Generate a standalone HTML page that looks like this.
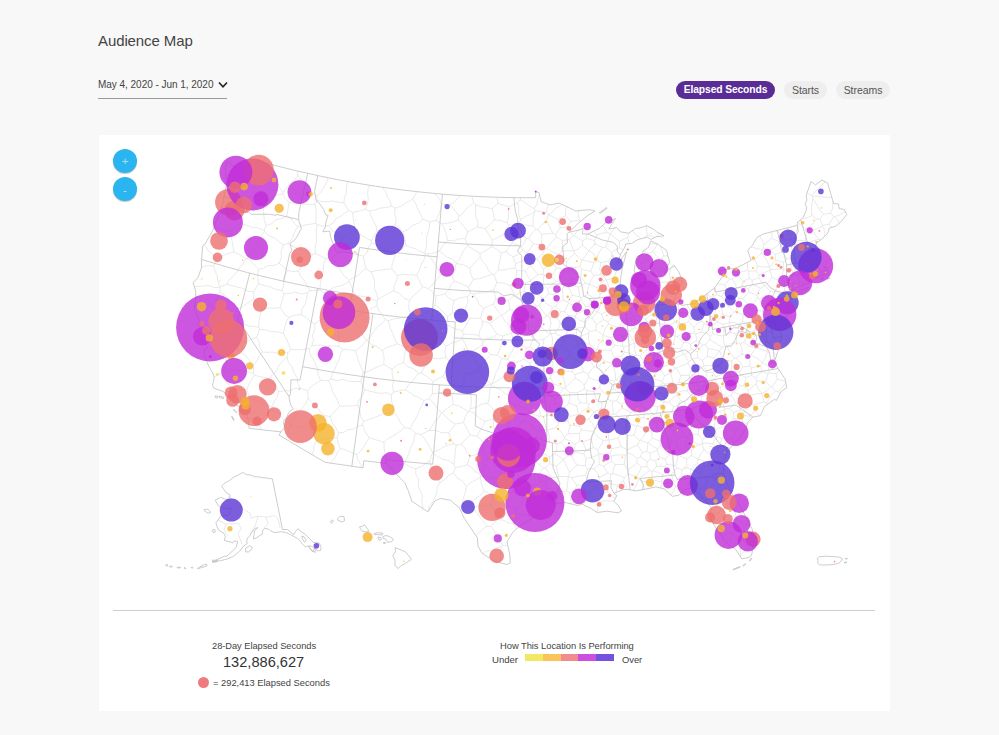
<!DOCTYPE html>
<html lang="en"><head><meta charset="utf-8"><title>Audience Map</title>
<style>
html,body{margin:0;padding:0;}
body{width:999px;height:735px;overflow:hidden;background:#f8f8f8;font-family:"Liberation Sans",sans-serif;color:#333;position:relative;}
.abs{position:absolute;white-space:nowrap;}
h1{position:absolute;left:98px;top:31px;margin:0;font-weight:400;font-size:15px;line-height:20px;color:#444;letter-spacing:-0.1px;}
.date{position:absolute;left:98px;top:77px;width:129px;height:21px;border-bottom:1px solid #9a9a9a;font-size:10px;line-height:16px;color:#444;letter-spacing:-0.03px;}
.date svg{position:absolute;left:120px;top:4px;}
.tabs{position:absolute;top:81px;left:676px;height:18px;}
.tab{position:absolute;top:81px;height:18px;border-radius:9px;background:#eeeeee;color:#555;font-size:10.5px;line-height:18px;text-align:center;letter-spacing:-0.05px;}
.tab.on{background:#5a2d96;color:#fff;font-weight:700;font-size:10.3px;letter-spacing:-0.12px;}
.card{position:absolute;left:99px;top:135px;width:791px;height:576px;background:#fff;}
.zb{position:absolute;width:24px;height:24px;border-radius:12px;background:#2bb5f0;color:rgba(255,255,255,.62);text-align:center;font-size:11.5px;line-height:25px;box-shadow:0 1px 1px rgba(120,90,40,.35);}
.hr{position:absolute;left:113px;top:610px;width:762px;height:1px;background:#cfcfcf;}
.lg{position:absolute;white-space:nowrap;color:#444;}
.bar{position:absolute;left:525px;top:654px;width:89px;height:7px;display:flex;}
.bar i{display:block;flex:1;height:7px;}
svg.map{position:absolute;left:0;top:0;}
</style></head><body>
<h1>Audience Map</h1>
<div class="date"><span>May 4, 2020 - Jun 1, 2020</span><svg width="10" height="8" viewBox="0 0 10 8"><path d="M1 1.5 L5 5.8 L9 1.5" fill="none" stroke="#222" stroke-width="1.6"/></svg></div>
<div class="tab on" style="left:676px;width:99px;">Elapsed Seconds</div>
<div class="tab" style="left:784px;width:43px;">Starts</div>
<div class="tab" style="left:836px;width:54px;">Streams</div>
<div class="card"></div>
<svg class="map" width="999" height="735" viewBox="0 0 999 735">
<path fill="none" stroke="#d2d2d2" stroke-width="0.5" stroke-linejoin="round" d="M194.7 305.0 196.7 305.2 201.7 305.4 206.8 305.3 211.8 306.5 M211.8 306.5 214.5 301.5 217.7 296.7 219.9 291.5 M219.9 291.5 219.9 287.3 M194.2 286.4 199.1 286.6 204.3 285.7 209.5 285.8 214.6 287.6 219.9 287.3 M226.2 183.1 228.7 183.8 M228.7 183.8 233.1 179.1 237.1 174.3 239.9 170.0 M256.9 175.8 254.8 180.8 254.7 186.3 253.5 191.5 251.5 196.5 M248.5 172.3 251.1 174.4 256.9 175.8 M228.7 183.8 232.4 187.4 236.0 191.1 239.4 195.1 243.0 198.8 M251.5 196.5 243.0 198.8 M240.5 223.5 240.8 216.9 239.8 210.2 240.0 203.6 M240.0 203.6 235.2 204.9 230.1 205.0 225.1 206.1 221.2 207.7 M240.5 223.5 235.0 227.7 229.3 231.5 M229.3 231.5 224.2 230.3 219.3 228.7 214.6 226.3 214.4 226.2 M240.0 203.6 243.0 198.8 M211.8 306.5 214.1 312.2 215.5 318.2 M201.2 327.8 202.3 327.2 207.1 325.5 212.2 325.2 M215.5 318.2 212.2 325.2 M213.9 376.4 215.3 376.3 219.8 374.0 M219.8 374.0 223.9 377.5 226.2 382.5 230.5 385.9 233.2 390.6 M228.8 397.1 230.2 395.1 233.2 390.6 M213.6 266.0 215.2 271.2 217.4 276.2 217.7 281.8 220.3 286.7 M213.6 266.0 216.7 258.4 M216.7 258.4 222.4 256.0 228.0 253.4 234.0 252.0 M220.3 286.7 226.5 284.5 M226.5 284.5 229.2 279.8 233.3 276.2 236.8 272.1 239.5 267.4 243.3 263.5 245.7 258.6 M234.0 252.0 240.2 254.8 245.7 258.6 M201.5 267.2 203.2 266.7 208.3 265.6 213.6 266.0 M219.9 287.3 220.3 286.7 M204.2 244.7 206.0 247.2 208.9 251.6 213.0 254.8 216.7 258.4 M229.3 231.5 231.2 236.5 232.2 241.6 233.0 246.8 234.0 252.0 M224.5 368.8 226.1 363.2 226.2 357.4 M219.8 374.0 224.5 368.8 M204.6 350.8 204.8 350.8 209.2 347.9 214.3 347.7 M226.2 357.4 222.1 354.3 218.8 350.3 214.3 347.7 M212.2 325.2 215.6 330.0 218.7 335.0 M214.3 347.7 217.5 341.7 218.7 335.0 M253.7 291.9 253.7 299.1 M226.5 284.5 232.1 285.5 237.5 287.1 243.0 288.3 248.0 291.4 253.7 291.9 M219.9 291.5 225.0 295.2 228.9 300.0 232.8 304.9 237.3 309.1 M253.7 299.1 248.2 302.4 243.1 306.3 237.3 309.1 M215.5 318.2 222.0 317.7 228.5 317.2 235.0 316.8 M237.3 309.1 235.0 316.8 M218.7 335.0 225.8 335.6 232.9 335.9 M232.9 335.9 235.2 329.1 237.8 322.3 M237.8 322.3 235.0 316.8 M435.1 193.5 435.2 194.3 439.5 198.6 441.2 204.3 M441.2 204.3 450.1 204.8 M450.1 204.8 454.5 201.9 458.0 198.0 460.8 195.5 M245.7 258.6 247.5 258.8 M253.7 291.9 258.5 283.6 M247.5 258.8 251.8 261.5 254.9 265.6 258.5 269.2 M258.5 283.6 257.7 276.4 258.5 269.2 M240.5 223.5 246.4 225.1 252.2 227.5 258.4 228.0 264.2 230.3 M262.2 202.4 257.2 198.8 251.5 196.5 M262.2 202.4 263.2 208.2 263.9 214.0 264.2 219.9 266.2 225.5 M266.2 225.5 264.2 230.3 M247.5 258.8 249.7 253.8 253.5 249.9 256.7 245.6 258.8 240.6 261.1 235.7 264.4 231.5 M264.2 230.3 264.4 231.5 M256.9 175.8 264.6 171.1 M262.2 202.4 267.6 200.9 272.5 198.1 277.2 195.1 282.8 193.9 M264.6 171.1 267.6 175.9 272.5 179.1 275.2 184.2 279.9 187.7 283.0 192.4 M282.8 193.9 283.0 192.4 M633.5 490.5 633.5 490.4 636.3 484.8 638.8 479.1 M644.5 489.4 643.9 486.3 641.9 481.3 M641.9 481.3 638.8 479.1 M247.9 418.5 250.6 418.7 255.6 419.5 260.6 420.4 M260.6 420.4 259.7 425.6 260.7 429.6 M226.2 357.4 232.0 353.3 237.6 348.9 M253.6 373.5 253.5 364.5 M224.5 368.8 230.3 370.2 236.2 370.5 242.1 371.0 247.9 371.9 253.6 373.5 M253.5 364.5 249.4 360.7 246.3 356.0 241.5 352.8 237.6 348.9 M232.9 335.9 236.1 340.3 238.3 345.3 M238.3 345.3 237.6 348.9 M233.2 390.6 240.0 390.0 246.9 389.4 M253.6 373.5 254.5 375.2 M254.5 375.2 251.5 379.7 248.8 384.3 246.9 389.4 M243.3 410.0 245.2 407.3 246.7 402.3 249.9 398.1 M246.9 389.4 249.9 398.1 M500.1 562.6 500.1 561.4 500.8 556.4 500.4 551.3 501.6 546.4 M501.6 546.4 496.6 548.2 491.8 550.7 486.3 551.0 482.7 553.5 M266.2 225.5 271.7 223.7 276.1 219.8 281.8 218.5 286.8 215.8 M282.8 193.9 285.3 198.6 289.0 202.5 M286.8 215.8 288.0 209.2 289.0 202.5 M283.0 192.4 286.4 188.0 289.8 183.7 294.2 180.2 297.5 175.8 M264.6 171.1 267.0 166.5 267.7 163.5 M297.5 175.8 298.2 171.2 M662.2 483.3 668.1 483.1 673.9 483.3 M662.2 483.3 660.4 488.0 M670.9 495.0 673.3 491.7 675.6 486.6 M675.6 486.6 673.9 483.3 M650.5 482.0 641.9 481.3 M650.5 482.0 651.0 487.4 651.1 487.9 M785.6 381.3 777.1 379.1 M785.8 382.7 782.7 386.8 778.5 392.0 M777.1 379.1 772.3 387.0 M772.3 387.0 775.6 390.8 M778.5 392.0 775.6 390.8 M780.1 393.9 778.5 392.0 M253.5 364.5 257.1 360.8 259.0 355.8 262.5 352.0 M238.3 345.3 242.6 342.6 247.6 341.5 251.9 339.0 256.7 337.4 M262.5 352.0 259.8 347.4 259.1 342.1 256.7 337.4 M262.5 352.0 267.6 352.4 272.7 352.0 277.8 353.3 282.9 352.6 288.0 352.7 M288.0 352.7 287.1 357.0 M254.5 375.2 259.4 376.5 264.4 377.5 269.4 378.5 M287.1 357.0 283.1 360.9 279.2 365.0 277.0 370.3 272.9 374.1 269.4 378.5 M364.6 389.7 369.9 391.2 375.2 392.5 380.6 393.4 386.3 392.7 391.5 394.7 M364.6 389.7 362.9 395.2 359.2 399.6 357.4 405.0 M357.4 405.0 359.8 410.3 360.5 416.1 363.3 421.2 M363.3 421.2 368.3 419.7 373.3 418.1 378.2 416.1 383.0 413.9 388.3 413.1 393.3 411.7 M393.3 411.7 393.0 406.0 391.4 400.5 391.5 394.7 M405.4 389.8 408.2 385.4 412.0 381.7 415.2 377.7 418.3 373.5 M405.4 389.8 399.5 390.7 393.7 392.2 M393.7 392.2 392.5 386.6 393.5 380.7 392.3 375.1 392.0 369.3 M418.3 373.5 414.0 369.0 407.9 366.8 403.4 362.6 M392.0 369.3 397.2 365.1 403.4 362.6 M421.0 373.0 418.3 373.5 M421.0 373.0 423.7 368.3 426.0 363.3 427.2 357.9 M427.2 357.9 423.8 353.6 421.1 348.7 418.3 344.0 M414.8 343.5 418.3 344.0 M406.2 347.5 414.8 343.5 M406.2 347.5 405.0 352.5 404.1 357.5 403.4 362.6 M397.2 343.8 406.2 347.5 M397.2 343.8 392.1 345.8 386.8 347.4 382.3 350.6 M383.8 364.3 384.1 357.4 382.3 350.6 M383.8 364.3 392.0 369.3 M416.6 191.6 415.6 194.3 412.8 199.4 M412.8 199.4 416.0 204.0 417.8 209.3 420.7 214.1 422.9 219.2 M435.8 220.4 438.6 215.4 440.4 210.0 441.2 204.3 M435.8 220.4 429.8 221.9 M429.8 221.9 422.9 219.2 M403.1 231.7 408.6 229.3 412.9 225.2 418.4 223.0 422.9 219.2 M412.8 199.4 406.9 202.3 401.4 206.1 395.1 208.1 M403.1 231.7 399.7 227.9 395.6 224.7 M395.6 224.7 396.1 219.1 394.6 213.7 395.1 208.1 M501.6 546.4 502.7 545.2 M475.4 534.9 478.9 532.8 482.7 529.4 486.9 526.5 M486.9 526.5 491.0 526.2 M491.0 526.2 494.3 530.8 496.3 536.0 500.5 540.0 502.7 545.2 M404.6 427.5 400.4 422.6 397.5 416.7 393.3 411.7 M384.0 442.4 379.1 440.8 374.2 439.3 369.3 437.7 M404.6 427.5 400.9 430.9 396.6 433.7 392.3 436.4 387.7 438.7 384.0 442.4 M363.3 421.2 362.5 425.1 M362.5 425.1 365.2 431.8 369.3 437.7 M384.0 442.4 384.1 448.0 385.1 453.5 385.4 459.1 386.0 463.3 M361.2 467.5 361.1 464.6 357.7 460.1 356.7 454.7 M369.3 437.7 366.3 442.0 363.8 446.8 360.7 451.0 356.7 454.7 M330.8 463.1 331.9 460.9 335.3 457.2 337.4 452.5 340.6 448.6 M356.7 454.7 351.4 452.5 346.2 450.0 340.6 448.6 M429.8 221.9 429.4 227.2 428.3 232.3 426.3 237.3 426.9 242.7 426.2 247.9 424.6 252.9 M403.1 231.7 404.7 238.5 406.0 245.3 M424.6 252.9 419.8 251.4 415.4 248.7 410.5 247.4 406.0 245.3 M258.5 269.2 263.7 268.1 268.6 265.6 274.1 265.4 279.1 263.3 M264.4 231.5 268.7 235.6 274.3 237.8 278.8 241.6 283.5 244.9 M283.5 244.9 281.1 250.9 281.5 257.4 279.1 263.3 M314.9 204.2 309.6 204.7 304.5 204.0 299.3 203.3 294.1 203.0 289.0 202.5 M314.9 204.2 316.3 210.5 316.0 216.9 315.9 223.3 M286.8 215.8 291.2 218.8 294.2 223.0 297.7 226.9 M297.7 226.9 303.7 225.3 309.8 224.3 315.9 223.3 M283.5 244.9 288.4 243.3 M297.7 226.9 294.4 232.2 292.5 238.3 288.4 243.3 M317.0 200.6 316.9 196.0 M317.0 200.6 322.3 201.6 327.7 201.7 333.2 200.9 338.5 202.2 343.9 202.7 M316.9 196.0 320.5 192.4 323.3 188.1 326.0 183.9 327.6 178.8 328.6 177.8 M343.9 202.7 344.4 197.6 346.5 192.7 346.4 187.5 347.6 182.5 348.0 181.6 M314.9 204.2 317.0 200.6 M297.5 175.8 301.6 179.7 305.2 183.9 309.6 187.5 312.3 192.6 316.9 196.0 M328.4 225.7 332.9 223.2 335.8 218.8 340.3 216.4 344.4 213.4 348.4 210.4 M328.4 225.7 322.6 226.1 317.0 224.5 M348.4 210.4 343.9 202.7 M317.0 224.5 315.9 223.3 M752.8 549.5 751.9 549.4 746.8 548.3 M746.8 548.3 740.7 555.7 M740.7 555.7 740.4 556.9 M775.6 390.8 771.9 394.5 769.1 398.8 766.5 403.3 M767.2 404.5 766.5 403.3 M649.8 470.6 651.8 471.3 M638.6 478.6 644.2 474.5 649.8 470.6 M638.6 478.6 638.8 479.1 M650.5 482.0 652.6 479.9 M651.8 471.3 652.6 479.9 M662.2 483.3 661.3 481.8 M652.6 479.9 661.3 481.8 M685.3 489.6 681.0 487.7 675.6 486.6 M674.1 482.0 673.9 483.3 M686.6 488.7 689.4 482.8 M674.1 482.0 681.6 475.6 M681.6 475.6 685.8 478.9 689.4 482.8 M674.1 482.0 671.4 474.9 M681.6 475.6 682.0 469.6 M671.4 474.9 676.9 467.7 M676.9 467.7 682.0 469.6 M825.3 181.8 822.1 185.0 818.5 188.4 815.0 192.0 811.3 195.5 M811.3 195.5 807.0 192.9 M603.0 225.2 604.3 227.5 607.5 232.6 M607.5 232.6 602.1 233.2 597.0 235.0 M593.6 231.2 597.0 235.0 M580.7 276.5 581.5 269.4 M580.7 276.5 572.2 279.5 M572.2 279.5 570.2 274.2 568.6 268.8 M568.6 268.8 574.1 267.5 579.8 266.7 M581.5 269.4 579.8 266.7 M590.9 271.4 581.5 269.4 M593.9 262.4 590.9 271.4 M593.9 262.4 588.0 261.3 582.1 260.0 M582.1 260.0 581.7 260.1 M581.7 260.1 579.8 266.7 M567.0 268.1 568.6 268.8 M581.7 260.1 574.7 253.7 M567.0 268.1 566.5 261.9 M574.7 253.7 570.2 257.4 566.5 261.9 M290.4 424.9 292.9 420.2 296.0 415.8 299.5 411.7 302.7 407.4 305.9 403.1 308.1 398.1 M290.4 424.9 285.9 421.4 281.8 417.3 277.9 412.9 272.9 409.9 M272.9 409.9 272.5 407.4 M272.5 407.4 273.6 401.8 277.2 397.2 278.7 391.7 M278.7 391.7 284.2 390.8 289.8 390.7 295.0 388.1 300.7 388.4 M300.7 388.4 307.5 390.6 M307.5 390.6 308.1 398.1 M285.7 439.1 287.6 435.4 288.7 430.2 290.6 425.4 M290.6 425.4 290.4 424.9 M260.6 420.4 264.4 416.6 268.1 412.6 272.9 409.9 M249.9 398.1 255.7 399.9 261.4 402.3 267.0 404.6 272.5 407.4 M269.4 378.5 273.4 382.3 276.2 386.9 278.7 391.7 M287.1 357.0 288.4 362.6 292.2 367.2 293.9 372.7 297.2 377.5 297.7 383.5 300.7 388.4 M309.1 348.6 310.2 354.2 313.0 359.1 315.8 364.1 317.5 369.5 318.2 375.2 320.6 380.3 M309.1 348.6 303.0 349.6 296.8 349.8 290.6 349.5 M320.6 380.3 316.0 383.4 311.3 386.5 307.5 390.6 M288.0 352.7 290.6 349.5 M330.3 416.5 323.9 415.5 M330.3 416.5 332.1 422.5 335.7 427.5 338.5 433.0 M323.9 415.5 318.5 419.5 314.5 424.8 309.8 429.6 M338.5 433.0 337.0 437.4 M337.0 437.4 331.9 438.3 326.7 438.8 321.6 439.5 316.6 440.9 M309.8 429.6 313.4 435.1 316.6 440.9 M339.6 406.2 334.9 411.3 330.3 416.5 M339.6 406.2 337.9 400.8 335.0 395.9 332.2 391.0 331.0 385.4 328.0 380.5 M308.1 398.1 311.9 402.6 316.5 406.4 319.9 411.2 323.9 415.5 M328.0 380.5 320.6 380.3 M357.4 405.0 351.5 406.2 345.5 405.9 339.6 406.2 M362.5 425.1 357.6 426.4 353.2 429.2 348.1 429.7 343.6 432.4 338.5 433.0 M290.6 425.4 296.8 427.4 303.6 427.2 309.8 429.6 M340.6 448.6 338.2 443.2 337.0 437.4 M311.9 454.6 313.5 450.5 314.0 445.3 316.6 440.9 M258.5 283.6 264.3 285.7 270.3 286.7 275.8 289.6 281.9 290.4 M279.1 263.3 283.3 266.9 287.3 270.6 M281.9 290.4 283.6 285.6 283.9 280.3 285.4 275.4 287.3 270.6 M288.5 317.7 283.9 312.9 280.0 307.6 M288.5 317.7 286.0 322.6 284.6 328.0 283.5 333.4 M283.5 333.4 277.7 331.9 271.6 331.6 265.7 329.9 259.7 329.4 M280.0 307.6 274.1 308.2 268.1 307.9 262.2 309.1 M262.2 309.1 260.3 315.0 259.0 321.0 258.7 327.2 M258.7 327.2 259.7 329.4 M283.8 293.8 289.7 293.6 295.6 292.2 301.6 294.0 307.5 292.7 M283.8 293.8 282.1 300.7 280.0 307.6 M301.2 314.7 302.1 309.0 305.2 303.9 306.6 298.4 307.5 292.7 M301.2 314.7 294.6 315.1 288.5 317.7 M311.8 346.1 313.5 340.7 312.4 335.0 314.8 329.7 314.9 324.0 M309.1 348.6 311.8 346.1 M301.2 314.7 306.1 317.3 310.2 321.1 314.9 324.0 M290.6 349.5 288.7 343.9 286.2 338.6 283.5 333.4 M256.7 337.4 259.7 329.4 M253.7 299.1 258.4 303.7 262.2 309.1 M281.9 290.4 283.8 293.8 M237.8 322.3 243.0 323.6 248.0 325.8 253.3 326.4 258.7 327.2 M323.8 318.9 318.8 320.5 314.9 324.0 M311.8 346.1 317.3 345.1 322.7 345.2 328.1 346.8 333.5 345.8 338.9 346.3 M323.8 318.9 329.0 321.0 333.5 324.4 338.7 326.6 M338.9 346.3 338.8 339.7 338.3 333.2 338.7 326.6 M346.5 307.0 349.9 312.1 351.5 318.1 M346.5 307.0 340.1 306.2 334.0 304.5 328.0 302.1 M323.8 318.9 325.0 313.3 326.7 307.7 328.0 302.1 M338.7 326.6 342.4 322.8 346.7 320.2 351.5 318.1 M627.8 489.6 625.6 486.3 623.6 481.0 M638.6 478.6 636.0 476.5 M636.0 476.5 628.1 474.0 M623.6 481.0 624.4 477.5 M628.1 474.0 624.4 477.5 M527.5 473.8 524.9 468.2 524.1 462.1 M527.5 473.8 523.3 478.6 M520.7 478.7 523.3 478.6 M520.7 478.7 516.1 472.8 513.3 466.0 M524.1 462.1 516.9 460.9 M513.3 466.0 516.9 460.9 M515.2 450.4 516.2 455.6 516.9 460.9 M502.5 466.6 498.4 459.4 M502.5 466.6 507.8 465.2 513.3 466.0 M515.2 450.4 509.6 450.1 504.0 449.3 M498.4 459.4 500.5 454.0 504.0 449.3 M404.6 427.5 410.2 428.8 M391.5 394.7 393.7 392.2 M405.4 389.8 409.9 392.7 414.2 395.9 419.4 397.7 423.9 400.6 M423.9 400.6 422.0 405.5 419.4 410.1 417.7 415.0 415.1 419.6 412.3 424.1 410.2 428.8 M563.2 300.1 562.9 294.4 562.5 288.7 M563.2 300.1 557.6 302.4 M557.6 302.4 552.5 294.6 M562.5 288.7 557.9 292.4 552.5 294.6 M567.0 268.1 564.4 269.3 M564.4 269.3 556.5 267.8 M556.5 267.8 553.6 263.7 M566.5 261.9 562.1 258.7 558.9 254.2 M558.9 254.2 558.3 254.3 M558.3 254.3 555.5 258.8 553.6 263.7 M520.3 197.7 520.2 199.7 M539.6 194.6 537.9 198.9 537.0 204.1 534.1 208.6 M520.2 199.7 524.9 202.6 529.3 205.8 534.1 208.6 M497.2 197.3 497.2 198.2 497.9 203.3 M497.9 203.3 503.4 205.1 508.9 207.0 M508.9 207.0 517.8 202.8 M520.2 199.7 517.8 202.8 M493.5 304.0 495.8 298.9 M493.5 304.0 488.6 306.2 483.6 308.4 M483.6 308.4 479.2 304.2 476.8 298.6 472.8 294.1 M472.8 294.1 478.0 293.0 483.4 292.7 488.6 291.4 493.8 289.9 M493.8 289.9 495.8 298.9 M532.4 337.3 534.5 331.8 536.3 326.1 M536.3 326.1 530.5 326.5 525.0 324.7 519.4 324.1 M532.4 337.3 527.3 333.6 521.6 330.9 515.6 328.9 M519.4 324.1 515.6 328.9 M435.8 220.4 441.7 223.8 M450.1 204.8 454.8 210.2 458.8 216.2 M441.7 223.8 447.3 223.3 452.8 222.2 458.1 220.0 M458.8 216.2 458.1 220.0 M471.6 196.2 473.8 202.6 M458.8 216.2 463.0 213.3 465.9 208.9 469.9 205.9 473.8 202.6 M496.8 282.4 494.1 274.8 M496.8 282.4 503.9 283.1 510.4 285.8 M498.3 270.3 494.1 274.8 M514.9 268.2 516.7 270.6 M516.7 270.6 516.1 280.4 M498.3 270.3 503.9 269.8 509.4 268.8 514.9 268.2 M510.4 285.8 516.1 280.4 M508.6 300.8 502.1 300.5 495.8 298.9 M496.8 282.4 493.8 289.9 M508.6 300.8 514.4 294.9 M510.4 285.8 514.4 294.9 M414.8 343.5 413.7 338.0 410.8 332.9 411.0 327.0 408.6 321.8 407.3 316.3 M397.2 343.8 394.4 338.3 392.2 332.4 389.8 326.7 388.4 320.6 M388.4 320.6 394.6 318.7 401.0 317.9 407.3 316.3 M418.3 344.0 423.1 339.6 429.4 337.3 434.0 332.7 M423.5 315.5 425.4 320.2 428.1 324.5 432.3 327.8 434.0 332.7 M423.5 315.5 416.7 314.5 409.9 313.7 M407.3 316.3 409.9 313.7 M340.4 250.5 339.9 244.5 341.4 238.7 M340.4 250.5 346.2 251.9 352.0 253.4 357.9 254.4 363.6 256.3 M341.4 238.7 346.1 236.4 349.5 232.2 354.1 230.0 M354.1 230.0 358.2 233.0 362.4 235.8 366.7 238.4 371.3 240.6 M363.6 256.3 367.1 252.4 368.6 247.2 371.5 243.0 M371.3 240.6 371.5 243.0 M348.4 210.4 352.6 212.5 M352.6 212.5 353.1 218.3 354.3 224.1 354.1 230.0 M328.4 225.7 332.4 230.3 337.7 233.7 341.4 238.7 M395.6 224.7 389.4 227.0 382.8 228.2 376.9 231.3 M376.9 231.3 374.0 235.9 371.3 240.6 M406.0 245.3 401.1 249.7 395.3 252.8 M395.3 252.8 390.5 250.8 385.5 249.4 380.9 247.1 376.4 244.7 371.5 243.0 M287.3 270.6 292.8 271.4 298.4 271.3 M307.5 292.7 310.0 290.6 M298.4 271.3 300.6 276.5 304.5 280.7 307.0 285.9 310.0 290.6 M288.4 243.3 292.9 246.2 297.5 248.7 302.6 250.2 307.4 252.4 312.3 254.5 M298.4 271.3 301.3 266.7 306.1 263.5 309.4 259.2 312.3 254.5 M317.0 224.5 316.5 230.3 316.2 236.1 316.5 242.0 314.8 247.8 315.5 253.7 M315.5 253.7 312.3 254.5 M369.5 211.2 375.0 210.1 380.3 208.0 386.0 207.7 391.3 206.0 M369.5 211.2 365.6 209.2 M365.6 209.2 367.3 204.2 368.3 199.1 367.7 193.8 368.1 188.6 369.9 185.3 M391.3 206.0 390.2 200.9 387.2 196.5 385.7 191.5 382.4 187.4 382.3 187.2 M376.9 231.3 376.0 225.9 373.7 221.0 371.2 216.2 369.5 211.2 M395.1 208.1 391.3 206.0 M352.6 212.5 359.2 211.0 365.6 209.2 M740.7 555.7 740.2 549.5 738.5 543.5 M738.5 543.5 734.2 544.3 M734.2 544.3 732.5 547.5 M502.7 545.2 507.8 545.4 M753.0 533.9 750.4 535.3 745.6 537.1 M753.4 543.2 749.9 540.5 745.1 538.2 M745.6 537.1 745.1 538.2 M746.8 548.3 743.6 539.7 M745.1 538.2 743.6 539.7 M738.5 543.5 741.2 540.5 M743.6 539.7 741.2 540.5 M730.4 540.8 734.2 544.3 M730.4 540.8 731.9 533.5 M741.2 540.5 736.4 537.2 731.9 533.5 M731.9 533.5 731.7 533.0 M731.7 533.0 726.0 534.5 721.0 535.1 M730.4 540.8 726.6 542.6 M710.5 391.4 710.3 394.4 M710.5 391.4 706.9 385.2 M701.4 396.6 710.3 394.4 M706.9 385.2 699.2 386.6 M701.4 396.6 697.5 394.2 M699.2 386.6 697.5 394.2 M651.8 471.3 652.8 470.9 M661.3 481.8 662.8 474.8 M652.8 470.9 658.0 472.3 662.8 474.8 M671.4 474.9 665.1 472.7 M662.8 474.8 665.1 472.7 M719.5 468.8 712.9 474.7 M719.5 468.8 723.7 468.9 M712.9 474.7 718.5 477.0 724.4 478.5 M724.9 478.2 724.4 478.5 M721.8 485.3 729.0 490.6 M730.0 490.0 729.0 490.6 M721.8 485.3 724.4 478.5 M766.5 403.3 764.2 402.0 M772.3 387.0 770.5 386.7 M764.2 402.0 761.7 393.5 M761.7 393.5 761.8 393.3 M770.5 386.7 766.8 390.8 761.8 393.3 M812.2 196.1 817.7 196.3 823.2 197.1 828.7 197.3 831.9 197.5 M811.3 195.5 812.2 196.1 M595.3 243.8 588.8 250.4 M595.3 243.8 594.3 240.5 M594.3 240.5 586.6 238.3 M588.8 250.4 582.4 245.4 M586.6 238.3 582.6 240.9 M582.6 240.9 582.4 245.4 M586.2 234.0 586.6 238.3 M597.0 235.0 594.3 240.5 M588.8 250.6 588.8 250.4 M588.8 250.6 585.7 255.5 582.1 260.0 M573.9 250.9 574.7 253.7 M573.9 250.9 578.5 248.7 582.4 245.4 M577.9 230.3 573.9 235.5 M573.9 235.5 578.2 238.3 582.6 240.9 M580.5 221.4 579.5 220.3 M579.5 220.3 578.3 214.8 578.4 210.8 M607.5 232.6 610.1 233.7 M615.9 227.6 613.9 229.2 610.1 233.7 M557.6 219.3 560.4 227.5 M557.6 219.3 565.4 215.8 M565.4 215.8 570.7 221.4 M570.7 221.4 566.8 227.3 M566.8 227.3 560.4 227.5 M548.6 214.6 553.1 217.0 557.6 219.3 M548.6 214.6 552.8 211.9 556.2 207.9 560.7 205.5 561.8 204.4 M566.8 206.7 565.6 210.2 565.4 215.8 M579.5 220.3 570.7 221.4 M572.9 235.7 570.5 231.9 M570.1 231.2 566.8 227.3 M573.9 235.5 572.9 235.7 M480.1 257.3 482.7 261.9 486.4 265.6 488.5 270.4 492.3 274.1 M480.1 257.3 475.0 262.6 469.9 267.9 M492.3 274.1 486.1 276.4 479.9 278.6 473.3 279.3 M473.3 279.3 470.6 273.9 469.9 267.9 M342.7 349.3 349.1 349.9 355.5 350.5 M342.7 349.3 340.4 354.2 339.2 359.4 336.9 364.2 334.9 369.2 332.0 373.7 331.0 379.1 M355.5 350.5 357.2 356.2 358.7 361.9 361.2 367.3 363.2 372.9 M331.0 379.1 336.9 380.6 343.0 379.5 348.8 381.3 354.8 381.6 360.8 381.5 M360.8 381.5 363.2 372.9 M338.9 346.3 342.7 349.3 M328.0 380.5 331.0 379.1 M364.6 389.7 360.8 381.5 M383.8 364.3 378.6 366.5 373.5 368.6 368.5 371.3 363.2 372.9 M601.0 494.0 595.4 487.5 M601.0 494.0 599.1 501.8 M599.1 501.8 598.7 502.2 M598.7 502.2 594.3 498.7 589.4 496.0 M595.4 487.5 588.9 493.6 M588.9 493.6 589.4 496.0 M596.9 512.2 598.1 507.4 598.7 502.2 M614.1 500.9 610.9 501.0 605.0 500.7 599.1 501.8 M586.8 479.6 591.2 482.3 595.8 484.7 M595.8 484.7 595.4 487.5 M582.9 485.2 586.8 479.6 M582.9 485.2 585.3 491.9 M585.3 491.9 588.9 493.6 M609.4 483.6 617.4 485.2 M609.4 483.6 607.8 484.9 M607.8 484.9 607.9 491.7 M617.4 485.2 616.2 492.3 616.2 492.4 M616.2 494.9 616.1 496.9 M615.2 498.7 611.8 495.8 607.9 491.7 M595.8 484.7 598.7 482.4 M598.7 482.4 607.8 484.9 M601.0 494.0 607.9 491.7 M623.6 481.0 617.4 485.2 M469.4 505.6 472.6 507.2 M469.4 505.6 472.4 501.4 476.3 497.9 480.9 495.2 483.9 490.9 M472.6 507.2 478.5 506.2 484.5 505.8 490.5 505.1 M483.9 490.9 488.7 493.3 493.6 495.7 M490.5 505.1 493.6 495.7 M524.1 462.1 528.3 459.3 532.5 456.5 M530.2 472.6 527.5 473.8 M530.2 472.6 533.0 467.2 536.2 462.0 M532.5 456.5 535.1 457.7 M536.2 462.0 535.1 457.7 M502.5 466.6 500.5 472.0 499.3 477.7 M480.5 476.7 486.6 476.9 492.7 477.4 498.8 478.0 M479.6 473.6 480.5 476.7 M479.6 473.6 482.9 468.9 485.5 463.8 488.3 458.8 M498.4 459.4 493.3 459.5 488.3 458.8 M499.3 477.7 498.8 478.0 M520.7 478.7 513.4 483.8 M499.3 477.7 504.3 479.2 509.1 481.0 513.4 483.8 M493.6 495.7 496.4 494.4 M480.4 477.1 480.5 476.7 M483.9 490.9 481.6 484.1 480.4 477.1 M498.8 478.0 498.5 483.5 496.4 488.8 496.4 494.4 M480.4 477.1 475.6 480.0 470.5 482.6 466.4 486.5 M469.4 505.6 462.1 505.1 M466.4 486.5 465.2 492.8 463.1 498.8 462.1 505.1 M486.9 526.5 483.4 521.6 479.7 516.9 476.4 511.9 472.6 507.2 M462.1 505.1 458.8 507.3 M470.0 456.4 467.1 452.3 464.7 447.9 461.4 444.1 M470.0 456.4 476.6 454.2 482.3 450.2 M482.3 450.2 483.0 441.5 M483.0 441.5 477.2 436.3 M477.2 436.3 470.4 435.0 M461.4 444.1 465.6 439.2 470.4 435.0 M488.3 458.8 485.2 454.6 482.3 450.2 M467.3 464.9 470.0 456.4 M479.6 473.6 474.9 471.5 471.7 467.4 467.3 464.9 M495.9 438.3 489.7 440.8 483.0 441.5 M499.5 439.7 495.9 438.3 M504.0 449.3 501.9 444.4 499.5 439.7 M452.1 395.6 445.5 394.9 439.1 393.3 432.4 393.5 M452.1 395.6 456.7 388.1 M456.7 388.1 452.2 384.2 447.2 380.8 443.2 376.4 M443.2 376.4 437.9 378.6 433.1 381.6 M433.1 381.6 432.5 387.5 432.4 393.5 M421.0 373.0 427.5 376.8 433.1 381.6 M423.9 400.6 429.6 398.6 M429.6 398.6 432.4 393.5 M468.8 352.0 473.0 356.8 475.9 362.4 478.9 368.0 M468.8 352.0 473.8 350.4 478.3 347.8 482.5 344.7 M478.9 368.0 482.5 363.2 486.8 359.0 490.9 354.6 M482.5 344.7 486.1 350.1 490.9 354.6 M595.8 330.2 589.5 331.7 M589.5 331.7 588.6 333.3 M602.9 334.7 595.8 330.2 M603.4 335.6 602.9 334.7 M603.4 335.6 602.2 340.7 598.7 344.6 597.0 349.5 M597.0 349.5 595.9 349.7 M595.9 349.7 589.7 344.1 M588.6 333.3 588.4 338.8 589.7 344.1 M559.8 282.2 561.6 275.5 564.4 269.3 M559.8 282.2 555.7 281.1 M556.5 267.8 554.4 272.4 551.1 276.2 M555.7 281.1 551.1 276.2 M543.9 275.3 543.2 285.1 M543.9 275.3 551.1 276.2 M555.7 281.1 551.7 285.0 547.7 288.9 M543.2 285.1 547.7 288.9 M563.7 286.6 562.5 288.7 M563.7 286.6 559.8 282.2 M552.5 294.6 548.7 293.9 M548.7 293.9 547.7 288.9 M669.4 364.4 673.1 365.7 M673.1 365.7 675.0 358.5 M663.9 354.2 667.1 359.1 669.4 364.4 M663.9 354.2 670.4 350.5 M670.4 350.5 675.0 358.5 M688.8 375.5 680.8 375.4 M676.2 368.2 680.8 375.4 M676.2 368.2 682.0 365.7 687.9 363.1 M688.8 375.5 691.7 370.0 M691.7 370.0 687.9 363.1 M779.4 370.4 776.0 373.6 M772.3 362.7 768.2 365.6 M768.2 365.6 769.2 372.9 M776.0 373.6 769.2 372.9 M651.4 307.3 651.1 300.1 M651.4 307.3 650.1 308.3 M650.1 308.3 645.0 307.5 M645.0 307.5 643.9 302.0 644.7 296.5 M644.7 296.5 651.1 300.1 M614.8 334.9 611.4 337.6 M614.8 334.9 616.6 327.3 M603.4 335.6 611.4 337.6 M602.9 334.7 605.1 329.1 608.4 324.1 M608.4 324.1 616.6 327.3 M650.5 331.3 650.5 335.8 M650.5 331.3 643.9 328.8 M650.5 335.8 642.4 341.1 M643.9 328.8 640.7 330.2 M640.7 330.2 640.4 335.4 641.1 340.6 M642.4 341.1 641.1 340.6 M634.4 342.9 631.4 337.8 628.3 332.8 M634.4 342.9 629.1 345.5 623.5 347.1 M623.5 347.1 622.7 346.3 M622.7 346.3 622.4 341.3 623.5 336.3 M623.5 336.3 628.3 332.8 M634.8 327.7 640.7 330.2 M628.6 331.5 634.8 327.7 M628.6 331.5 628.3 332.8 M634.7 343.0 641.1 340.6 M634.7 343.0 634.4 342.9 M624.2 352.2 623.5 347.1 M635.1 355.7 629.9 353.4 624.2 352.2 M634.7 343.0 634.6 349.1 636.4 355.0 M635.1 355.7 636.4 355.0 M614.4 345.0 622.7 346.3 M611.4 337.6 614.4 345.0 M614.8 334.9 623.5 336.3 M616.6 327.3 621.1 324.2 M628.6 331.5 624.7 328.0 621.1 324.2 M534.1 208.6 535.4 210.7 M548.2 204.3 547.4 207.4 546.2 212.5 M535.4 210.7 540.8 211.7 546.2 212.5 M548.6 214.6 548.4 214.6 M546.2 212.5 548.4 214.6 M490.0 323.1 493.2 328.7 496.9 334.1 M490.0 323.1 495.7 319.3 501.3 315.3 M501.3 315.3 501.9 315.4 M501.9 315.4 504.7 321.0 509.0 325.7 512.0 331.2 M496.9 334.1 502.5 336.0 M502.5 336.0 510.9 333.3 M510.9 333.3 512.0 331.2 M482.8 321.1 482.1 326.1 479.6 330.7 478.9 335.8 M482.8 321.1 490.0 323.1 M482.8 341.9 478.9 335.8 M482.8 341.9 487.1 338.7 492.7 337.6 496.9 334.1 M480.4 318.1 481.9 313.2 483.6 308.4 M480.4 318.1 482.8 321.1 M493.5 304.0 496.9 310.0 501.3 315.3 M508.6 300.8 509.9 309.5 M509.9 309.5 501.9 315.4 M520.0 320.4 517.0 312.0 M509.9 309.5 517.0 312.0 M519.4 324.1 520.0 320.4 M515.6 328.9 512.0 331.2 M497.4 355.1 490.9 354.6 M497.4 355.1 499.9 348.9 501.8 342.6 502.5 336.0 M482.8 341.9 482.5 344.7 M516.4 344.1 513.4 349.1 510.3 354.0 507.8 359.3 M501.7 358.5 507.8 359.3 M497.4 355.1 501.7 358.5 M516.4 344.1 513.8 338.6 510.9 333.3 M497.9 203.3 492.3 208.6 M473.8 202.6 475.7 204.7 M492.3 208.6 486.7 207.6 481.0 206.8 475.7 204.7 M441.7 223.8 444.5 229.1 446.5 234.6 447.6 240.5 M447.6 240.5 453.6 240.7 459.3 238.8 465.2 238.6 M458.1 220.0 461.6 223.8 465.0 227.7 467.8 232.1 M465.2 238.6 467.8 232.1 M455.9 262.7 452.3 259.1 447.2 257.5 443.5 254.0 439.2 251.3 M447.6 240.5 442.9 245.5 439.2 251.3 M455.9 262.7 459.8 259.1 461.8 254.1 464.2 249.5 468.0 245.8 M465.2 238.6 468.0 245.8 M475.7 204.7 475.5 210.3 475.6 216.0 478.0 221.5 477.5 227.1 M467.8 232.1 472.5 229.4 477.5 227.1 M456.2 263.4 463.3 264.8 469.9 267.9 M455.9 262.7 456.2 263.4 M480.1 257.3 480.2 253.6 M468.0 245.8 474.0 249.9 480.2 253.6 M494.1 274.8 492.3 274.1 M498.3 270.3 499.0 264.4 500.3 258.6 501.2 252.8 M501.2 252.8 496.7 249.3 491.8 246.5 M480.2 253.6 486.2 250.3 491.8 246.5 M525.3 270.9 516.7 270.6 M530.5 280.5 527.7 275.8 525.3 270.9 M530.5 280.5 530.3 281.1 M516.1 280.4 525.5 283.1 M530.3 281.1 525.5 283.1 M385.4 319.7 382.5 315.2 379.1 311.0 377.1 305.9 M385.4 319.7 381.6 323.7 377.2 327.2 373.8 331.6 370.6 336.3 366.9 340.3 M377.1 305.9 371.9 308.0 367.5 311.7 362.4 313.9 357.2 316.0 352.2 318.3 M352.2 318.3 354.4 323.2 358.5 326.8 361.1 331.4 363.2 336.3 366.5 340.4 M366.9 340.3 366.5 340.4 M388.4 320.6 385.4 319.7 M382.3 350.6 377.4 346.9 371.5 344.6 366.9 340.3 M355.5 350.5 361.6 346.1 366.5 340.4 M351.5 318.1 352.2 318.3 M328.0 302.1 326.6 297.0 323.8 292.5 M310.0 290.6 319.9 290.1 M323.8 292.5 319.9 290.1 M315.5 253.7 320.8 256.0 325.8 258.9 M319.9 290.1 320.2 284.8 321.2 279.6 322.4 274.4 323.4 269.2 323.7 263.9 325.8 258.9 M340.4 250.5 335.9 254.7 330.8 258.3 M330.8 258.3 325.8 258.9 M759.7 415.8 758.4 414.7 754.9 411.0 M764.2 402.0 758.9 403.1 753.8 405.0 M754.9 411.0 753.8 405.0 M726.6 498.4 732.5 499.3 736.2 500.4 M726.6 498.4 727.1 506.3 M727.1 506.3 733.9 507.6 M737.4 502.1 733.9 507.6 M729.0 490.6 725.2 496.6 M725.2 496.6 726.6 498.4 M736.0 516.1 726.3 516.5 M736.0 516.1 733.9 507.6 M722.3 510.3 727.1 506.3 M726.3 516.5 722.3 510.3 M736.5 516.5 740.9 514.1 743.4 512.2 M736.5 516.5 736.0 516.1 M736.8 518.0 741.2 522.2 746.5 524.9 M736.8 518.0 734.8 522.9 733.3 528.0 M733.3 528.0 733.5 528.8 M733.5 528.8 738.4 530.5 743.6 530.6 M746.5 524.9 743.6 530.6 M736.5 516.5 736.8 518.0 M749.1 523.3 746.5 524.9 M723.0 522.9 728.4 525.0 733.3 528.0 M726.3 516.5 723.0 522.9 M723.0 522.9 720.8 524.1 M731.7 533.0 733.5 528.8 M720.8 524.1 717.7 529.5 717.4 530.0 M745.6 537.1 743.6 530.6 M691.1 469.2 695.9 471.3 700.3 474.4 M691.1 469.2 690.8 469.2 M690.8 469.2 690.3 475.7 690.2 482.1 M700.3 474.4 701.2 476.0 M701.2 476.0 697.1 481.2 M690.2 482.1 697.1 481.2 M702.0 467.6 700.3 474.4 M697.3 463.3 702.0 467.6 M697.3 463.3 691.1 469.2 M686.9 467.7 682.0 469.6 M686.9 467.7 690.8 469.2 M689.4 482.8 690.2 482.1 M707.2 476.9 701.2 476.0 M707.2 476.9 712.5 475.1 M709.3 465.2 702.0 467.6 M712.5 475.1 712.8 474.7 M712.8 474.7 711.9 469.6 709.3 465.2 M705.4 487.8 706.4 482.3 707.2 476.9 M705.4 487.8 701.5 487.9 M701.5 487.9 697.1 481.2 M698.1 493.2 698.5 492.8 701.5 487.9 M714.3 515.8 711.1 515.2 M714.3 515.8 721.8 510.2 M711.0 507.8 712.1 507.3 717.8 505.4 M721.8 510.2 717.8 505.4 M720.8 524.1 717.2 520.2 714.3 515.8 M722.3 510.3 721.8 510.2 M673.1 365.7 674.8 367.9 M674.8 367.9 671.0 373.2 M659.1 367.5 664.4 366.4 669.4 364.4 M659.1 367.5 664.6 375.6 M671.0 373.2 664.6 375.6 M699.2 386.6 695.4 383.0 M691.2 382.5 688.9 384.5 M695.4 383.0 691.2 382.5 M697.5 394.2 692.0 396.6 M692.0 396.6 687.4 390.9 M687.4 390.9 688.9 384.5 M691.2 382.5 688.8 375.5 M680.8 375.4 678.9 382.5 M688.9 384.5 684.0 383.1 678.9 382.5 M673.0 382.8 671.0 373.2 M674.8 367.9 676.2 368.2 M673.0 382.8 676.5 384.4 M676.5 384.4 678.9 382.5 M722.3 404.8 716.1 404.5 710.0 405.6 M722.3 404.8 716.7 397.2 M710.0 405.6 711.8 396.7 M716.7 397.2 711.8 396.7 M724.2 410.1 714.9 413.0 M709.2 409.9 714.9 413.0 M723.3 405.2 724.9 408.8 M724.9 408.8 724.2 410.1 M709.2 409.9 708.7 407.3 M708.7 407.3 710.0 405.6 M723.3 405.2 722.3 404.8 M710.3 394.4 711.8 396.7 M702.5 405.1 708.7 407.3 M701.4 396.6 702.5 405.1 M692.0 396.6 691.9 396.9 M702.5 405.1 695.8 407.4 M695.8 407.4 693.2 402.4 691.9 396.9 M652.9 378.5 650.6 386.8 M652.9 378.5 662.2 381.3 M663.1 383.0 662.2 381.3 M663.1 383.0 658.8 386.6 655.4 391.1 M650.6 386.8 654.1 391.5 M655.4 391.1 654.1 391.5 M641.6 387.8 640.2 385.3 M641.6 387.8 650.6 386.8 M647.3 375.8 652.6 378.0 M652.6 378.0 652.9 378.5 M643.2 376.3 640.2 385.3 M647.3 375.8 643.2 376.3 M659.1 367.5 658.4 367.3 M652.6 378.0 655.7 372.8 658.4 367.3 M664.6 375.6 662.2 381.3 M673.0 382.8 664.8 384.1 M664.8 384.1 663.1 383.0 M641.4 388.7 641.6 387.8 M652.5 396.2 650.0 398.2 M647.7 398.4 650.0 398.2 M647.7 398.4 644.5 393.6 641.4 388.7 M652.5 396.2 654.1 391.5 M648.2 442.7 652.3 438.0 M648.2 442.7 652.5 446.3 657.6 448.7 M652.3 438.0 660.1 441.1 M657.6 448.7 660.4 446.2 M660.4 446.2 660.1 441.1 M649.8 470.6 646.8 466.6 M636.0 476.5 639.4 472.1 641.2 467.0 M646.8 466.6 641.2 467.0 M627.7 470.2 628.1 474.0 M627.7 470.2 632.6 466.7 636.8 462.4 M641.2 467.0 636.8 462.4 M655.7 460.9 659.8 457.3 M655.7 460.9 656.5 466.4 M656.5 466.4 664.9 466.7 M659.8 457.3 665.3 459.1 M665.3 459.1 666.5 464.3 M666.5 464.3 664.9 466.7 M650.3 459.4 650.3 453.2 M657.1 450.2 650.3 453.2 M657.1 450.2 659.8 457.3 M650.3 459.4 655.7 460.9 M646.8 466.6 647.4 461.7 M650.3 459.4 647.4 461.7 M652.8 470.9 656.5 466.4 M665.1 472.7 664.9 466.7 M675.6 465.6 676.9 467.7 M675.6 465.6 666.5 464.3 M705.6 501.0 709.2 497.6 M717.8 505.4 717.6 503.9 M717.6 503.9 713.1 501.1 709.2 497.6 M725.2 496.6 722.7 496.7 M717.6 503.9 722.7 496.7 M714.6 485.2 718.3 486.9 M714.6 485.2 708.5 489.7 M718.3 486.9 718.9 493.9 M718.9 493.9 709.9 496.0 M708.5 489.7 709.9 496.0 M712.9 474.7 712.8 474.7 M721.8 485.3 718.3 486.9 M712.5 475.1 714.0 480.0 714.6 485.2 M705.4 487.8 708.5 489.7 M722.7 496.7 718.9 493.9 M709.2 497.6 709.9 496.0 M714.9 413.0 716.1 419.8 M724.2 410.1 725.4 415.2 724.9 420.3 M716.1 419.8 724.9 420.3 M727.8 423.5 727.3 423.5 M727.8 423.5 733.7 418.5 M724.9 408.8 729.3 408.8 M733.7 418.5 733.5 412.0 M729.3 408.8 733.5 412.0 M727.3 423.5 724.9 420.3 M738.1 428.8 735.9 429.4 M743.8 432.0 743.0 431.0 738.1 428.8 M735.9 429.4 735.2 435.1 732.6 440.2 M734.3 443.3 732.6 440.2 M761.7 393.5 755.9 394.0 750.3 395.4 M753.8 405.0 752.1 404.0 M750.3 395.4 752.1 404.0 M756.0 384.0 748.2 390.2 M748.2 390.2 748.4 393.3 M761.8 393.3 758.3 389.1 756.0 384.0 M750.3 395.4 748.4 393.3 M716.7 397.2 721.6 393.6 M710.5 391.4 715.5 389.4 720.4 387.2 M721.6 393.6 720.4 387.2 M723.3 405.2 727.4 396.9 M721.6 393.6 727.4 396.9 M706.9 385.2 708.1 382.4 M714.4 379.5 708.1 382.4 M714.4 379.5 720.4 387.2 M720.4 387.2 720.4 387.2 M845.4 211.8 843.2 212.3 839.0 215.3 834.2 216.8 M839.2 223.2 838.0 220.2 834.2 216.8 M831.7 227.4 829.1 224.2 M834.2 216.8 833.7 216.6 M829.1 224.2 833.7 216.6 M813.0 198.6 816.3 203.9 819.4 209.4 823.2 214.3 M812.2 196.1 813.0 198.6 M833.1 201.3 832.7 202.7 832.7 208.1 830.6 213.1 M823.2 214.3 830.6 213.1 M830.6 213.1 833.7 216.6 M812.0 215.6 807.2 217.8 802.1 219.1 801.1 219.3 M813.0 198.6 811.9 204.2 811.3 209.9 812.0 215.6 M569.8 239.4 562.2 240.5 M569.8 239.4 571.4 245.3 573.9 250.9 M562.2 240.5 562.5 245.9 561.5 251.3 M573.9 250.9 567.7 250.7 561.5 251.3 M555.6 234.5 560.4 227.5 M572.9 235.7 569.8 239.4 M556.3 236.9 555.6 234.5 M556.3 236.9 562.2 240.5 M573.9 250.9 573.9 250.9 M558.9 254.2 561.5 251.3 M558.3 254.3 552.4 251.8 547.0 248.5 M547.0 248.5 551.3 242.4 556.3 236.9 M595.3 243.8 602.6 247.5 M588.8 250.6 593.4 253.5 597.0 257.6 M602.6 247.5 599.2 252.2 597.0 257.6 M593.9 262.4 597.4 260.6 M593.8 275.5 601.0 274.6 M601.0 274.6 599.8 268.6 600.7 262.4 M590.9 271.4 593.8 275.5 M600.7 262.4 597.4 260.6 M597.4 260.6 597.0 257.6 M602.6 247.5 605.6 247.1 M610.1 233.7 610.2 234.0 M610.2 234.0 608.0 240.6 605.6 247.1 M611.8 257.3 608.6 261.2 M611.8 257.3 611.5 252.4 M608.6 261.2 600.7 262.4 M605.6 247.1 611.5 252.4 M644.5 296.2 647.5 290.8 M644.5 296.2 644.7 296.5 M656.0 297.5 651.1 300.1 M656.0 296.1 656.0 297.5 M656.0 296.1 650.7 291.1 M650.7 291.1 647.5 290.8 M563.7 286.6 567.4 286.4 M572.2 279.5 570.2 284.8 M570.2 284.8 567.4 286.4 M612.8 297.9 609.0 289.5 M612.8 297.9 617.9 295.4 620.9 292.8 M619.8 287.9 614.8 287.6 609.5 288.2 M609.5 288.2 609.0 289.5 M626.6 252.0 626.4 251.9 M623.1 250.1 619.2 247.9 M630.1 243.7 629.0 242.6 627.6 237.7 M627.6 237.7 619.5 241.3 M619.2 247.9 619.5 241.3 M610.2 234.0 614.8 237.6 619.5 241.3 M629.0 233.0 627.6 237.7 M611.5 252.4 619.2 247.9 M658.7 233.0 658.6 233.2 656.5 236.7 M646.5 225.7 646.2 229.4 647.4 234.6 M654.9 237.4 647.4 234.6 M632.5 230.6 634.0 233.1 639.1 236.8 640.6 238.9 M647.4 234.6 645.4 237.6 M468.7 287.2 463.9 285.0 459.1 283.0 454.2 281.3 M468.7 287.2 470.4 293.2 M467.6 296.6 470.4 293.2 M467.6 296.6 460.6 297.6 454.1 300.6 M454.2 281.3 450.6 285.2 448.4 290.2 444.7 294.0 M454.1 300.6 448.8 298.1 444.7 294.0 M456.2 263.4 454.9 269.9 451.7 275.7 M451.7 275.7 454.2 281.3 M473.3 279.3 468.7 287.2 M472.8 294.1 470.4 293.2 M422.5 286.6 428.4 288.6 M422.5 286.6 419.6 281.0 416.8 275.3 M428.4 288.6 433.0 284.3 436.8 279.3 441.1 274.7 M416.8 275.3 419.2 270.0 421.2 264.6 424.1 259.5 425.4 253.8 M441.1 274.7 437.9 269.4 434.9 263.9 431.4 258.8 427.3 254.0 M425.4 253.8 427.3 254.0 M423.5 315.5 427.1 311.7 431.7 309.1 435.1 305.1 M435.1 305.1 435.8 296.1 M409.4 300.5 408.6 307.2 409.9 313.7 M409.4 300.5 413.4 295.5 418.4 291.5 422.5 286.6 M435.8 296.1 432.6 291.9 428.4 288.6 M393.9 290.7 394.2 285.4 396.6 280.7 397.4 275.5 M397.4 275.5 403.9 274.4 410.4 274.8 416.8 275.3 M409.4 300.5 403.8 298.0 399.3 293.6 393.9 290.7 M435.8 296.1 444.7 294.0 M451.7 275.7 446.4 274.6 441.1 274.7 M395.3 252.8 394.3 258.2 392.2 263.3 391.9 268.8 M424.6 252.9 425.4 253.8 M397.4 275.5 391.9 268.8 M439.2 251.3 433.4 253.1 427.3 254.0 M445.9 346.4 451.1 343.2 457.0 341.7 462.2 338.6 M445.9 346.4 444.9 352.0 445.9 357.6 M445.9 357.6 449.3 361.8 M468.3 351.9 463.1 355.7 457.0 357.9 451.9 362.0 M468.3 351.9 465.8 345.0 462.2 338.6 M449.3 361.8 451.9 362.0 M434.0 332.7 437.0 332.9 M437.0 332.9 440.6 337.1 442.5 342.2 445.9 346.4 M427.2 357.9 433.4 358.3 439.7 358.7 445.9 357.6 M443.2 376.4 445.3 371.6 446.7 366.4 449.3 361.8 M478.9 335.8 473.9 334.4 468.6 334.3 463.4 334.0 M463.4 334.0 462.2 338.6 M468.8 352.0 468.3 351.9 M446.8 324.6 451.8 327.3 457.1 329.3 462.4 331.1 M446.8 324.6 447.8 316.2 M452.6 312.8 447.8 316.2 M452.6 312.8 459.2 313.9 465.8 313.5 M462.4 331.1 466.4 324.8 469.8 318.2 M465.8 313.5 469.8 318.2 M437.0 332.9 442.0 328.9 446.8 324.6 M463.4 334.0 462.4 331.1 M435.1 305.1 439.6 308.5 443.5 312.6 447.8 316.2 M454.1 300.6 452.5 306.6 452.6 312.8 M467.6 296.6 468.0 302.3 465.5 307.8 465.8 313.5 M480.4 318.1 475.1 318.5 469.8 318.2 M582.9 485.2 576.7 485.2 M585.5 475.3 578.4 476.3 571.4 477.7 M586.8 479.6 585.5 475.3 M576.7 485.2 571.4 477.7 M614.2 380.9 608.7 380.0 603.4 378.7 M603.4 378.7 603.1 374.4 M615.6 380.0 614.2 380.9 M613.7 366.3 612.1 364.7 M613.7 366.3 615.2 373.0 615.6 380.0 M603.1 374.4 606.9 368.9 612.1 364.7 M588.2 374.1 593.7 366.7 M588.2 374.1 583.7 371.8 M583.7 371.8 581.5 366.3 580.5 360.5 M593.7 366.7 591.1 362.2 589.1 357.5 M589.1 357.5 584.9 357.8 M584.9 357.8 580.5 360.5 M597.6 367.4 603.1 374.4 M588.9 377.5 588.2 374.1 M588.9 377.5 594.7 380.1 600.9 380.9 M600.9 380.9 603.4 378.7 M597.6 367.4 593.7 366.7 M595.9 349.7 592.3 353.4 589.1 357.5 M577.8 344.3 583.8 343.7 589.7 344.1 M577.8 344.3 580.4 348.7 583.0 353.1 584.9 357.8 M647.4 461.7 640.3 457.0 M636.8 462.4 637.3 458.5 M637.3 458.5 640.3 457.0 M660.1 441.1 662.9 436.8 M662.0 432.3 662.9 436.8 M652.3 438.0 651.6 432.0 M662.0 432.3 656.9 430.1 M651.6 432.0 656.9 430.1 M491.0 526.2 497.3 519.5 M516.6 529.0 516.4 528.5 513.5 523.5 M497.3 519.5 502.9 519.9 508.0 522.7 513.5 523.5 M490.5 505.1 493.9 510.4 497.6 515.5 M497.3 519.5 497.6 515.5 M568.3 476.5 568.5 476.4 M569.7 472.2 568.5 476.4 M568.3 476.5 559.0 476.5 M563.6 459.4 556.5 466.4 M563.6 459.4 566.3 466.0 569.7 472.2 M559.0 476.5 557.2 471.6 556.5 466.4 M563.6 459.4 563.6 459.2 M555.2 454.0 563.6 459.2 M549.4 456.9 550.1 463.7 M549.4 456.9 555.2 454.0 M556.5 466.4 550.1 463.7 M555.2 454.0 556.9 449.2 556.8 444.0 M568.0 455.8 566.1 451.1 564.3 446.4 561.1 442.4 M563.6 459.2 568.0 455.8 M561.1 442.4 556.8 444.0 M544.2 444.9 548.9 441.6 M543.2 453.4 544.2 444.9 M549.4 456.9 543.2 453.4 M556.8 444.0 548.9 441.6 M543.2 453.4 535.1 457.7 M532.5 456.5 531.5 454.8 M544.2 444.9 536.1 441.4 M536.1 441.4 533.2 442.3 M531.5 454.8 531.7 448.4 533.2 442.3 M515.2 450.4 518.4 447.9 M531.5 454.8 524.9 451.5 518.4 447.9 M466.4 486.5 462.8 481.2 457.1 477.8 453.4 472.6 M428.5 510.9 428.9 506.9 432.4 502.6 434.9 497.9 436.7 492.9 437.1 487.3 439.9 482.7 M439.9 482.7 444.6 479.7 448.5 475.4 453.4 472.6 M467.3 464.9 461.4 466.3 455.5 467.6 M455.5 467.6 453.4 472.6 M391.7 469.0 393.1 468.7 398.5 465.2 404.7 463.7 M410.2 428.8 415.5 433.1 M404.7 463.7 406.5 458.6 408.8 453.7 410.2 448.5 412.8 443.7 414.0 438.4 415.5 433.1 M423.3 508.8 422.7 506.6 421.7 501.2 422.5 495.4 419.7 490.4 418.3 485.0 418.6 479.3 415.8 474.3 415.8 468.7 M404.7 463.7 409.9 467.0 415.8 468.7 M439.9 482.7 437.3 477.3 435.2 471.7 431.5 466.8 429.6 461.1 M415.8 468.7 420.7 466.7 425.2 464.0 429.6 461.1 M429.6 398.6 433.8 403.1 437.0 408.4 441.6 412.6 M441.6 412.6 439.0 417.5 434.9 421.3 432.1 426.0 429.0 430.5 M429.0 430.5 421.0 434.7 M415.5 433.1 421.0 434.7 M477.2 436.3 479.6 431.1 482.6 426.3 485.1 421.2 M495.9 438.3 495.9 431.7 493.4 425.5 493.7 418.9 M485.1 421.2 493.7 418.9 M478.6 370.1 482.7 374.7 486.4 379.7 490.7 384.2 M478.6 370.1 472.6 372.7 466.1 373.7 M490.7 384.2 485.3 385.7 480.6 389.0 474.8 389.6 470.1 392.7 M466.1 373.7 463.8 380.2 461.6 386.8 M461.6 386.8 465.3 390.6 470.1 392.7 M491.8 383.8 494.1 378.9 495.4 373.6 498.2 368.8 499.7 363.6 501.7 358.5 M491.2 384.4 491.8 383.8 M491.2 384.4 490.7 384.2 M478.9 368.0 478.6 370.1 M451.9 362.0 457.2 365.2 461.5 369.6 466.1 373.7 M456.7 388.1 461.6 386.8 M453.1 404.4 447.4 408.3 441.9 412.6 M453.1 404.4 458.6 405.8 463.5 408.5 468.1 411.5 M441.9 412.6 445.9 416.9 450.4 420.8 455.2 424.1 M468.1 411.5 465.2 416.8 463.6 422.6 M463.6 422.6 455.2 424.1 M441.6 412.6 441.9 412.6 M452.1 395.6 453.1 404.4 M470.4 408.7 471.2 403.3 471.2 398.0 470.1 392.7 M468.9 411.0 470.4 408.7 M468.9 411.0 468.1 411.5 M448.5 432.6 441.9 432.7 435.6 430.4 429.0 430.5 M448.5 432.6 452.2 428.6 455.2 424.1 M468.9 411.0 474.8 413.6 479.4 418.3 485.1 421.2 M470.4 435.0 467.0 428.8 463.6 422.6 M532.4 337.3 532.8 339.2 M532.8 339.2 530.2 346.7 M516.4 344.1 521.6 345.7 526.6 347.9 M530.2 346.7 526.6 347.9 M537.1 325.6 538.0 321.3 M536.3 326.1 537.1 325.6 M520.0 320.4 526.5 317.5 532.0 313.1 M538.0 321.3 534.6 317.5 532.0 313.1 M577.6 344.2 577.8 344.3 M577.6 344.2 576.2 339.1 M588.6 333.3 582.7 335.4 576.9 337.9 M576.2 339.1 576.9 337.9 M642.4 341.1 646.8 346.1 M655.8 341.1 650.5 335.8 M655.8 341.1 655.8 342.5 M655.8 342.5 646.8 346.1 M639.8 355.6 646.7 349.8 M636.4 355.0 639.8 355.6 M646.8 346.1 646.7 349.8 M650.7 291.1 654.8 287.7 659.5 285.3 M656.0 296.1 660.8 291.2 M660.8 291.2 659.5 285.3 M674.9 336.0 671.8 334.7 M674.9 336.0 675.0 336.1 M675.0 336.1 674.1 341.5 671.3 346.4 M671.8 334.7 665.2 337.2 M665.2 337.2 665.3 342.9 M665.3 342.9 671.3 346.4 M671.8 347.9 671.3 346.4 M670.4 350.5 671.8 347.9 M658.3 345.2 659.3 353.8 M663.9 354.2 659.3 353.8 M658.3 345.2 665.3 342.9 M770.5 386.7 765.7 381.4 M756.0 384.0 756.9 380.9 M765.7 381.4 756.9 380.9 M777.1 379.1 776.0 373.6 M769.2 372.9 768.2 373.6 M765.7 381.4 768.2 373.6 M623.9 367.4 626.2 364.6 M623.9 367.4 624.3 372.9 M626.2 364.6 631.1 364.0 M631.1 364.0 637.2 370.5 M624.3 372.9 631.0 376.8 M631.0 376.8 637.3 371.5 M637.2 370.5 637.3 371.5 M616.1 379.9 615.6 380.0 M613.7 366.3 618.9 366.2 623.9 367.4 M616.1 379.9 619.8 375.9 624.3 372.9 M635.1 355.7 631.1 364.0 M621.7 356.2 624.2 352.2 M621.7 356.2 626.2 364.6 M644.7 362.6 639.8 355.6 M644.7 362.6 641.5 367.1 637.2 370.5 M616.1 379.9 621.3 383.8 627.3 386.1 M630.6 383.0 631.0 376.8 M627.3 386.1 630.6 383.0 M643.2 376.3 637.3 371.5 M630.6 383.0 640.2 385.3 M598.7 350.4 604.8 350.0 610.9 350.3 M598.7 350.4 601.4 355.8 604.3 361.1 M610.9 350.3 614.3 357.8 M604.3 361.1 611.6 363.1 M614.3 357.8 611.6 363.1 M597.0 349.5 598.7 350.4 M614.4 345.0 610.9 350.3 M597.6 367.4 604.3 361.1 M621.7 356.2 614.3 357.8 M612.1 364.7 611.6 363.1 M634.8 327.7 635.7 322.2 634.5 316.8 M646.2 321.2 645.6 319.3 M646.2 321.2 643.9 328.8 M645.6 319.3 638.1 315.1 M638.1 315.1 634.5 316.8 M651.2 314.6 645.6 319.3 M651.2 314.6 650.1 308.3 M645.0 307.5 640.9 309.2 M638.1 315.1 640.9 309.2 M644.5 296.2 638.6 295.9 M640.9 309.2 637.4 302.6 636.8 302.0 M621.1 324.2 621.4 320.7 M634.5 316.8 632.7 316.2 M621.4 320.7 627.4 319.3 632.7 316.2 M629.0 309.2 628.9 310.1 M632.7 316.2 628.9 310.1 M555.6 234.5 552.9 233.1 M548.4 214.6 546.7 220.6 M552.9 233.1 549.6 226.9 546.7 220.6 M517.8 202.8 518.6 208.5 518.6 214.3 520.6 219.8 M535.4 210.7 535.0 211.3 M535.0 211.3 530.4 214.4 525.2 216.6 520.6 219.8 M506.6 232.8 508.8 224.8 M506.6 232.8 501.8 235.3 497.1 238.0 492.2 240.3 M494.4 219.8 490.0 224.5 485.1 228.5 M494.4 219.8 500.9 220.5 506.9 222.9 M506.9 222.9 508.8 224.8 M492.2 240.3 488.7 234.4 485.1 228.5 M492.3 208.6 493.5 214.2 494.4 219.8 M477.5 227.1 485.1 228.5 M508.9 207.0 508.4 212.3 508.6 217.7 506.9 222.9 M520.6 219.8 519.1 224.0 M519.1 224.0 514.0 225.3 508.8 224.8 M491.8 246.5 492.2 240.3 M515.7 263.7 522.7 261.0 529.4 257.9 M515.7 263.7 513.0 256.9 M529.4 257.9 527.0 252.8 M527.0 252.8 522.6 250.4 M513.0 256.9 518.3 254.4 522.6 250.4 M515.7 263.7 514.9 268.2 M501.2 252.8 505.7 252.0 M513.0 256.9 505.7 252.0 M525.3 270.9 530.6 265.7 M529.4 257.9 531.9 259.7 M530.6 265.7 531.9 259.7 M530.5 280.5 538.0 274.8 M530.6 265.7 534.3 270.3 538.0 274.8 M543.9 275.3 543.0 274.4 M530.3 281.1 535.4 288.1 M543.2 285.1 535.4 288.1 M538.0 274.8 543.0 274.4 M376.9 301.4 377.9 299.6 M376.9 301.4 371.5 298.7 365.7 296.8 359.6 295.9 354.1 293.6 M377.9 299.6 376.8 293.9 374.5 288.6 374.6 282.6 373.3 277.0 371.0 271.7 M354.1 293.6 352.0 287.3 348.9 281.5 M365.9 268.7 371.0 271.7 M365.9 268.7 361.7 271.6 358.2 275.4 353.4 277.5 349.3 280.4 M349.3 280.4 348.9 281.5 M377.1 305.9 376.9 301.4 M393.9 290.7 388.5 293.5 383.1 296.3 377.9 299.6 M346.5 307.0 348.3 302.1 350.9 297.7 354.1 293.6 M391.9 268.8 386.6 269.4 381.4 270.0 376.2 270.7 371.0 271.7 M323.8 292.5 329.0 290.8 333.5 287.2 339.0 286.2 344.3 284.5 348.9 281.5 M363.6 256.3 364.4 262.5 365.9 268.7 M330.8 258.3 335.1 262.1 339.0 266.4 341.3 272.0 344.9 276.6 349.3 280.4 M744.0 415.6 749.3 416.1 M744.0 415.6 742.2 419.0 M742.6 421.9 742.2 419.0 M742.6 421.9 747.2 424.2 M751.8 418.3 749.3 416.1 M743.3 413.2 744.0 415.6 M743.3 413.2 746.6 408.6 750.6 404.6 M754.9 411.0 749.3 416.1 M750.6 404.6 752.1 404.0 M733.7 418.5 742.2 419.0 M740.4 410.7 743.3 413.2 M740.4 410.7 733.5 412.0 M738.1 428.8 742.6 421.9 M727.8 423.5 731.6 426.7 735.9 429.4 M677.2 395.2 672.4 398.1 668.8 402.3 M677.2 395.2 677.1 392.7 M677.1 392.7 677.0 392.6 M677.0 392.6 671.7 393.5 666.4 392.3 M664.7 394.4 664.0 402.1 M664.7 394.4 666.4 392.3 M664.0 402.1 668.8 402.3 M687.4 390.9 682.1 390.8 677.1 392.7 M676.5 384.4 677.0 392.6 M664.8 384.1 666.4 392.3 M652.5 396.2 658.5 398.7 663.8 402.3 M655.4 391.1 664.7 394.4 M663.8 402.3 664.0 402.1 M707.4 413.1 699.9 417.0 M699.9 417.0 696.9 415.9 M709.2 409.9 707.4 413.1 M695.8 407.4 694.5 409.5 M696.9 415.9 694.5 409.5 M650.0 398.2 653.1 405.8 M653.1 405.8 657.8 406.8 M663.8 402.3 662.8 404.6 M657.8 406.8 662.8 404.6 M667.9 426.8 668.0 423.6 M662.0 432.3 667.9 426.8 M657.1 422.9 656.9 430.1 M657.1 422.9 660.3 420.6 M668.0 423.6 660.3 420.6 M657.8 406.8 656.4 413.9 M662.8 404.6 665.5 411.8 M656.4 413.9 659.8 416.4 M665.5 411.8 659.8 416.4 M656.9 365.4 648.9 364.6 M656.9 365.4 657.1 359.7 658.8 354.2 M658.8 354.2 652.2 353.9 M652.2 353.9 648.8 358.1 646.7 363.0 M646.7 363.0 648.9 364.6 M647.3 375.8 648.5 370.3 648.9 364.6 M658.4 367.3 656.9 365.4 M659.3 353.8 658.8 354.2 M658.3 345.2 655.8 342.5 M646.7 349.8 652.2 353.9 M644.7 362.6 646.7 363.0 M657.6 448.7 657.1 450.2 M665.3 459.1 670.8 452.8 M660.4 446.2 667.4 448.1 M667.4 448.1 670.8 452.8 M727.3 423.5 725.8 425.6 M732.6 440.2 725.1 437.4 M725.8 425.6 726.0 431.5 725.1 437.4 M719.5 468.8 719.4 461.9 M719.4 461.9 725.1 459.0 M686.9 467.7 686.6 458.9 M675.6 465.6 677.4 460.4 677.9 455.0 M686.6 458.9 677.9 455.0 M670.8 452.8 677.1 453.5 M677.9 455.0 677.1 453.5 M716.8 450.5 711.3 455.2 M716.8 450.5 722.3 453.7 725.5 457.0 M719.4 461.9 711.5 460.1 M711.3 455.2 711.5 460.1 M709.3 465.2 709.8 462.1 M709.8 462.1 711.5 460.1 M740.4 410.7 739.3 403.4 M729.3 408.8 735.7 402.5 M735.7 402.5 739.3 403.4 M727.4 396.9 731.4 395.2 M735.7 402.5 731.4 395.2 M748.4 393.3 743.0 396.1 M750.6 404.6 745.3 404.6 740.5 402.7 M743.0 396.1 740.5 402.7 M739.3 403.4 740.5 402.7 M823.2 214.3 819.8 219.0 M829.1 224.2 822.5 225.3 M822.5 225.3 819.8 219.0 M812.0 215.6 816.7 218.9 M816.7 218.9 819.8 219.0 M822.4 225.9 822.5 225.3 M822.4 225.9 824.7 230.6 824.7 235.9 824.8 236.2 M610.8 268.1 616.5 270.9 M610.8 268.1 607.3 272.3 603.5 276.1 M616.5 270.9 614.2 277.9 M614.2 277.9 606.4 280.0 M603.5 276.1 605.8 279.7 M606.4 280.0 605.8 279.7 M608.6 261.2 610.8 268.1 M601.0 274.6 603.5 276.1 M609.5 288.2 606.4 280.0 M620.2 283.2 619.4 282.6 614.2 277.9 M593.8 275.5 589.1 284.1 M589.1 284.1 597.2 287.7 M597.2 287.7 600.9 283.1 605.8 279.7 M597.2 287.7 600.1 294.0 M600.1 294.0 609.0 289.5 M570.2 284.8 578.5 287.2 M580.7 276.5 585.7 283.3 M578.5 287.2 585.7 283.3 M589.1 284.1 589.1 284.1 M585.7 283.3 589.1 284.1 M599.2 297.9 600.1 294.0 M594.7 298.7 599.2 297.9 M594.7 298.7 587.6 294.2 M589.1 284.1 588.0 289.1 587.6 294.2 M578.5 287.2 579.7 296.7 M587.6 294.2 580.9 297.9 M580.9 297.9 579.7 296.7 M567.4 286.4 570.5 290.5 572.0 295.4 M579.7 296.7 572.0 295.4 M563.2 300.1 567.7 302.0 M572.0 295.4 567.7 302.0 M612.8 297.9 611.5 301.6 M622.6 300.9 619.2 304.9 M611.5 301.6 619.2 304.9 M628.9 310.1 620.3 309.9 M621.4 320.7 617.3 315.4 M617.3 315.4 620.3 309.9 M619.2 304.9 620.3 309.9 M652.7 252.0 657.5 244.1 M652.7 252.0 658.9 258.4 M658.9 258.4 662.1 258.1 M660.3 245.9 661.9 250.1 663.6 256.2 M662.1 258.1 663.6 256.2 M648.0 253.4 643.2 250.8 M648.0 253.4 652.7 252.0 M649.9 243.6 650.0 243.6 657.4 244.0 M648.1 260.6 648.0 253.4 M652.9 265.2 658.9 258.4 M648.1 260.6 652.9 265.2 M667.7 254.9 663.6 256.2 M534.4 507.4 540.7 511.2 541.5 511.7 M534.4 507.4 536.5 499.5 M536.5 499.5 542.3 496.9 M545.0 509.0 543.8 503.0 542.3 496.9 M530.0 486.2 527.2 495.6 M530.0 486.2 532.5 486.2 M532.5 486.2 538.3 490.5 542.6 496.3 M527.2 495.6 532.2 496.9 536.5 499.5 M542.6 496.3 542.3 496.9 M650.3 453.2 646.9 451.5 M640.3 457.0 642.5 452.6 M646.9 451.5 642.5 452.6 M648.2 442.7 647.9 442.8 M646.9 451.5 647.9 442.8 M651.6 432.0 647.3 429.9 M647.9 442.8 640.3 440.3 M640.3 440.3 644.2 435.8 646.3 430.2 M646.3 430.2 647.3 429.9 M657.1 422.9 649.4 420.4 M647.3 429.9 649.4 420.4 M637.9 403.7 635.7 405.2 M637.9 403.7 636.1 394.7 M635.7 405.2 626.9 400.5 M636.1 394.7 626.9 391.0 M626.9 400.5 625.9 392.3 M626.9 391.0 625.9 392.3 M641.4 388.7 636.1 394.7 M647.7 398.4 640.1 403.8 M640.1 403.8 637.9 403.7 M627.3 386.1 626.9 391.0 M568.0 455.8 571.5 455.4 M569.7 472.2 573.1 468.4 577.1 465.0 M571.5 455.4 573.9 460.5 577.1 465.0 M624.4 477.5 618.5 475.3 612.4 473.6 M609.4 483.6 610.9 474.2 M610.9 474.2 612.4 473.6 M642.5 452.6 637.4 445.0 M640.3 440.3 639.6 440.4 M639.6 440.4 637.4 445.0 M614.2 380.9 613.4 388.6 M599.6 387.9 603.0 391.9 607.7 394.4 M600.9 380.9 599.6 387.9 M613.4 388.6 607.7 394.4 M625.9 392.3 620.5 393.5 M613.4 388.6 620.5 393.5 M626.9 400.5 621.6 404.2 M630.6 412.5 633.0 411.1 M635.7 405.2 633.0 411.1 M630.6 412.5 622.1 407.7 M622.1 407.7 621.6 404.2 M620.5 393.5 616.2 400.8 M621.6 404.2 616.2 400.8 M607.7 394.4 608.0 399.3 M608.0 399.3 612.1 401.4 M612.1 401.4 616.2 400.8 M531.0 519.1 528.6 516.1 M513.5 523.5 515.8 519.0 517.3 514.2 M517.3 514.2 522.9 514.9 528.6 516.1 M534.4 507.4 530.4 508.5 M530.4 508.5 528.6 516.1 M543.4 467.9 545.3 467.8 M543.4 467.9 538.7 474.9 M545.3 467.8 548.6 472.5 550.9 477.7 M538.7 474.9 541.7 481.2 M550.9 477.7 545.6 482.3 M541.7 481.2 545.6 482.3 M536.2 462.0 543.4 467.9 M550.1 463.7 545.3 467.8 M530.2 472.6 538.7 474.9 M558.7 476.7 559.0 476.5 M558.7 476.7 550.9 477.7 M532.5 486.2 537.5 484.3 541.7 481.2 M523.3 478.6 526.6 482.4 530.0 486.2 M538.3 431.3 536.2 436.1 536.1 441.4 M538.3 431.3 546.4 429.4 M548.9 441.6 549.3 435.7 547.5 430.1 M546.4 429.4 547.5 430.1 M561.1 442.4 564.3 438.7 M564.3 438.7 564.5 437.4 M564.5 437.4 561.2 431.9 556.3 427.7 M547.5 430.1 556.3 427.7 M528.0 397.4 522.6 400.9 518.0 405.4 M528.0 397.4 529.8 398.1 M529.8 398.1 532.2 404.8 M532.2 404.8 528.5 409.6 M528.5 409.6 523.2 407.6 518.0 405.4 M527.0 434.8 518.9 431.2 M527.0 434.8 527.8 440.2 M527.8 440.2 523.1 442.2 519.2 445.5 M519.2 445.5 516.6 440.3 514.6 434.8 M514.6 434.8 518.9 431.2 M532.1 427.9 527.0 434.8 M538.3 431.3 532.1 427.9 M533.2 442.3 527.8 440.2 M518.4 447.9 519.2 445.5 M499.5 439.7 504.2 437.1 508.0 433.4 M508.0 433.4 514.6 434.8 M453.6 464.3 448.8 460.6 442.6 459.3 437.4 456.4 432.5 452.7 M453.6 464.3 454.8 457.9 455.3 451.4 456.2 445.0 M456.2 445.0 453.5 443.8 M453.5 443.8 448.0 445.1 442.7 447.2 437.9 450.4 432.4 452.1 M432.4 452.1 432.5 452.7 M429.6 461.1 432.5 452.7 M455.5 467.6 453.6 464.3 M461.4 444.1 456.2 445.0 M448.5 432.6 450.7 438.3 453.5 443.8 M421.0 434.7 424.6 438.6 427.2 443.1 430.0 447.5 432.4 452.1 M537.1 325.6 542.0 327.6 545.9 331.5 550.8 333.7 M532.8 339.2 538.5 340.2 544.1 339.0 M544.1 339.0 550.8 333.7 M538.0 321.3 542.4 318.5 546.8 315.8 M547.8 315.8 546.8 315.8 M547.8 315.8 549.6 317.3 M549.6 317.3 551.0 322.7 549.7 328.3 551.0 333.7 M550.8 333.7 551.0 333.7 M576.0 360.8 580.5 360.5 M576.0 360.8 569.5 356.5 M577.6 344.2 573.2 348.0 569.1 352.2 M569.5 356.5 569.1 352.2 M523.8 359.3 529.6 363.1 M523.8 359.3 518.5 361.6 513.2 364.0 M513.2 364.0 514.2 369.0 M514.2 369.0 521.5 370.2 528.7 371.4 M529.6 363.1 531.1 368.2 M531.1 368.2 528.7 371.4 M526.6 347.9 524.8 353.5 523.8 359.3 M507.8 359.3 513.2 364.0 M491.8 383.8 497.1 381.1 502.2 377.9 507.5 375.3 513.3 373.6 M513.3 373.6 514.2 369.0 M528.9 377.6 524.7 381.0 522.0 385.7 M520.7 385.6 522.0 385.7 M513.3 373.6 517.4 379.4 520.7 385.6 M528.9 377.6 528.7 371.4 M538.9 369.3 537.6 379.1 M538.9 369.3 531.1 368.2 M537.6 379.1 528.9 377.6 M548.7 293.9 543.7 298.5 M535.4 288.1 534.9 291.9 M534.9 291.9 538.9 295.8 543.7 298.5 M552.4 307.3 547.8 315.8 M552.4 307.3 547.5 304.4 543.5 300.3 M546.8 315.8 542.4 311.0 539.0 305.4 M539.0 305.4 543.5 300.3 M555.9 306.1 552.4 307.3 M557.6 302.4 555.9 306.1 M543.5 300.3 543.7 298.5 M576.9 337.9 576.3 328.4 M589.5 331.7 585.2 326.8 M576.3 328.4 585.2 326.8 M585.1 322.2 585.2 326.8 M585.1 322.2 579.8 320.3 575.5 316.7 M576.3 328.4 573.8 325.9 M573.8 325.9 575.5 316.7 M707.3 372.0 703.4 366.5 M707.3 372.0 705.5 377.9 M703.4 366.5 697.9 370.9 M697.9 370.9 699.4 376.0 M699.4 376.0 705.5 377.9 M714.7 364.9 713.1 372.7 M713.1 372.7 707.3 372.0 M703.8 365.2 703.4 366.5 M703.8 365.2 709.3 365.9 714.7 364.9 M715.8 376.6 713.1 372.7 M708.1 382.4 705.5 377.9 M714.4 379.5 715.8 376.6 M688.3 361.5 687.9 363.1 M691.7 370.0 697.9 370.9 M702.5 360.3 703.8 365.2 M697.8 357.7 702.5 360.3 M688.3 361.5 692.8 359.1 697.8 357.7 M695.4 383.0 699.4 376.0 M702.6 344.9 697.3 351.7 M697.8 357.7 697.3 351.7 M702.5 360.3 707.2 356.3 M702.6 344.9 705.4 344.8 M705.4 344.8 707.9 348.8 M707.2 356.3 707.9 348.8 M725.2 346.1 722.2 347.6 M725.2 346.1 723.4 341.2 723.5 336.1 M722.2 347.6 716.0 343.5 709.7 339.4 M723.5 336.1 718.0 335.2 712.6 333.5 M712.6 333.5 710.4 336.0 M709.7 339.4 710.4 336.0 M726.8 346.6 731.4 343.6 736.6 342.0 M736.0 333.8 736.6 342.0 M736.0 333.8 731.3 332.5 M723.5 336.0 731.3 332.5 M726.8 346.6 725.2 346.1 M723.5 336.0 723.5 336.1 M701.0 332.2 704.1 323.7 M701.0 332.2 706.1 333.2 710.4 336.0 M704.1 323.7 712.6 326.5 M712.6 326.5 712.6 333.5 M696.8 340.3 695.7 333.9 M701.0 332.2 695.7 333.9 M702.6 344.9 696.8 340.3 M705.4 344.8 709.7 339.4 M656.0 297.5 660.6 302.2 M651.4 307.3 659.1 306.5 M659.1 306.5 660.6 302.2 M654.2 268.1 653.0 266.1 M652.9 265.2 653.0 266.1 M662.1 258.1 663.9 263.1 666.9 267.5 M654.2 268.1 659.6 270.7 M666.9 267.6 659.6 270.7 M689.9 319.1 688.7 321.6 M689.9 319.1 695.6 318.8 701.0 316.9 M688.7 321.6 693.9 327.8 M693.9 327.8 697.3 323.7 701.9 321.1 M701.0 316.9 701.9 321.1 M679.2 323.5 682.6 324.2 M679.2 323.5 679.6 318.1 680.9 312.7 M680.9 312.7 688.0 313.5 M688.0 313.5 689.9 319.1 M682.6 324.2 688.7 321.6 M695.7 333.9 694.3 332.9 M694.3 332.9 693.9 327.8 M704.1 323.7 701.9 321.1 M655.8 341.1 660.2 335.0 M650.5 331.3 653.5 329.5 M660.2 335.0 653.5 329.5 M665.2 337.2 660.7 334.9 M660.2 335.0 660.7 334.9 M646.2 321.2 650.6 323.8 655.8 324.3 M653.5 329.5 655.8 324.3 M679.1 323.6 676.1 329.5 674.9 336.0 M679.2 323.5 679.1 323.6 M675.0 336.1 677.0 336.6 M682.6 324.2 685.9 332.5 M677.0 336.6 685.9 332.5 M694.3 332.9 688.3 333.9 M685.9 332.5 688.3 333.9 M680.5 348.8 683.3 342.9 M680.5 348.8 683.5 353.9 M691.1 349.0 690.4 344.2 M691.1 349.0 684.7 354.5 M690.4 344.2 685.8 342.1 M683.3 342.9 685.8 342.1 M684.7 354.5 683.5 353.9 M677.0 336.6 683.3 342.9 M671.8 347.9 680.5 348.8 M675.0 358.5 683.5 353.9 M697.3 351.7 691.1 349.0 M696.8 340.3 690.4 344.2 M688.3 361.5 684.7 354.5 M688.3 333.9 685.8 342.1 M750.4 355.5 749.7 360.8 749.9 366.2 M750.4 355.5 742.0 354.3 M742.0 354.3 736.1 358.0 M736.1 358.0 739.9 362.1 742.6 366.9 M742.6 366.9 749.9 366.2 M726.8 346.6 730.2 352.6 734.4 358.2 M736.6 342.0 740.4 343.9 M740.4 343.9 742.0 349.0 742.0 354.3 M734.4 358.2 736.1 358.0 M761.8 371.7 755.4 377.9 M761.8 371.7 760.5 365.7 M760.5 365.7 751.2 367.9 M751.2 367.9 751.7 375.4 M751.7 375.4 755.4 377.9 M768.2 373.6 761.8 371.7 M756.9 380.9 755.4 377.9 M768.2 365.6 762.4 362.9 M762.4 362.9 760.5 365.7 M749.9 366.2 751.2 367.9 M739.3 372.4 742.6 366.9 M739.3 372.4 740.5 374.7 M746.1 377.5 740.5 374.7 M746.1 377.5 751.7 375.4 M743.7 385.8 746.1 377.5 M748.2 390.2 743.7 385.8 M762.4 362.6 757.0 358.1 750.6 355.3 M762.4 362.6 765.4 357.5 767.4 352.0 M767.4 352.0 766.8 351.2 M766.8 351.2 757.2 348.3 M750.6 355.3 755.4 348.6 M755.4 348.6 757.2 348.3 M750.4 355.5 750.6 355.3 M762.4 362.9 762.4 362.6 M776.7 354.7 773.7 353.4 M769.0 352.3 767.4 352.0 M743.8 342.4 740.4 343.9 M743.8 342.4 748.8 346.0 754.7 347.7 M754.7 347.7 755.4 348.6 M757.2 348.3 760.0 342.5 762.4 336.5 M766.8 351.2 767.5 348.7 M768.9 343.8 769.2 343.0 M769.2 343.0 766.9 340.4 M763.7 336.8 763.2 336.2 M762.4 336.5 763.2 336.2 M552.9 233.1 547.2 233.8 541.5 234.2 M546.7 220.6 542.1 224.9 537.7 229.5 M537.7 229.5 541.5 234.2 M547.0 248.5 544.9 248.9 M544.9 248.9 540.9 244.6 M541.5 234.2 541.9 239.4 540.9 244.6 M506.6 232.8 510.2 236.7 512.1 241.7 M505.7 252.0 508.8 247.2 512.1 242.6 M512.1 241.7 512.1 242.6 M522.6 250.4 521.1 246.9 M512.1 242.6 521.1 246.9 M542.6 253.9 536.9 258.9 M542.6 253.9 547.2 258.3 550.6 263.6 M536.9 258.9 540.5 264.0 543.6 269.3 M550.6 263.6 543.6 269.3 M544.9 248.9 542.6 253.9 M531.9 259.7 536.9 258.9 M527.0 252.8 530.5 248.5 533.4 243.9 M540.9 244.6 533.4 243.9 M553.6 263.7 550.6 263.6 M543.0 274.4 543.6 269.3 M716.1 419.8 715.2 420.7 M707.4 413.1 709.4 419.7 M715.2 420.7 709.4 419.7 M682.6 414.6 687.5 409.8 M682.6 414.6 679.1 410.8 677.2 406.0 M687.5 409.8 684.4 401.7 M677.2 406.0 680.7 400.7 M680.7 400.7 684.4 401.7 M691.9 396.9 684.4 401.7 M694.5 409.5 687.5 409.8 M673.7 406.6 668.8 402.3 M673.7 406.6 677.2 406.0 M677.2 395.2 680.7 400.7 M673.7 406.6 671.4 412.8 M682.6 414.6 682.3 415.4 M682.3 415.4 676.7 414.6 671.4 412.8 M668.0 423.6 669.6 422.0 M665.5 411.8 669.5 413.9 M660.3 420.6 659.8 416.4 M669.6 422.0 669.5 413.9 M671.4 412.8 669.5 413.9 M673.0 433.4 679.4 437.7 M673.0 433.4 669.2 438.2 M669.2 438.2 671.0 441.7 M671.0 441.7 676.4 442.1 M679.4 437.7 676.4 442.1 M684.3 436.1 679.4 437.7 M684.3 436.1 680.9 427.1 M680.9 427.1 672.7 431.4 M672.7 431.4 673.0 433.4 M667.9 426.8 672.7 431.4 M662.9 436.8 669.2 438.2 M667.4 448.1 671.0 441.7 M679.1 449.9 677.1 453.5 M679.1 449.9 676.4 442.1 M686.2 436.9 686.4 437.4 M686.4 437.4 685.5 446.9 M684.3 436.1 686.2 436.9 M685.5 446.9 679.1 449.9 M716.9 436.4 721.5 438.4 M716.9 436.4 712.4 444.1 M721.5 438.4 720.4 446.2 M712.4 444.1 717.1 449.1 M720.4 446.2 717.1 449.1 M725.1 437.4 721.5 438.4 M729.7 448.6 725.3 447.5 720.4 446.2 M716.8 450.5 717.1 449.1 M725.8 425.6 720.6 427.4 715.6 429.7 M716.9 436.4 716.0 435.3 M716.0 435.3 715.6 429.7 M715.2 420.7 714.1 428.1 M715.6 429.7 714.1 428.1 M702.1 443.9 698.5 444.7 M702.1 443.9 704.1 449.9 M698.5 444.7 691.6 450.2 M704.1 449.9 700.6 454.0 698.6 459.0 M691.6 450.2 691.7 455.4 M691.7 455.4 698.0 459.2 M698.0 459.2 698.6 459.0 M702.2 443.7 702.1 443.9 M702.2 443.7 707.3 442.9 712.4 444.1 M711.3 455.2 704.1 449.9 M685.5 446.9 691.6 450.2 M686.4 437.4 692.3 441.4 698.5 444.7 M709.8 462.1 704.0 461.3 698.6 459.0 M686.6 458.9 691.7 455.4 M697.3 463.3 698.0 459.2 M743.7 385.8 740.6 385.9 M740.5 374.7 736.1 380.8 M736.1 380.8 740.6 385.9 M743.0 396.1 733.9 392.1 M740.6 385.9 733.9 392.1 M731.4 395.2 732.8 392.3 M733.9 392.1 732.8 392.3 M822.4 225.9 818.0 228.6 812.9 229.9 M821.0 239.6 819.2 239.1 M819.2 239.1 815.3 235.0 812.9 229.9 M816.7 218.9 812.8 223.6 808.8 228.2 M812.9 229.9 808.8 228.2 M798.1 221.8 799.5 223.7 M799.5 223.7 805.6 228.4 M805.6 228.4 808.8 228.2 M819.2 239.1 813.2 240.8 807.3 242.5 M805.6 228.4 806.1 234.3 805.5 240.2 M805.5 240.2 807.3 242.5 M799.5 223.7 797.2 229.0 795.3 234.5 794.7 240.2 M805.5 240.2 800.1 240.6 794.7 240.2 M808.6 257.6 813.8 256.7 814.3 256.7 M808.6 257.6 808.5 247.9 M808.5 247.9 813.7 249.8 814.4 250.1 M807.1 245.9 807.3 242.5 M807.1 245.9 808.5 247.9 M807.1 245.9 800.6 249.9 M800.6 249.9 792.5 246.3 M794.7 240.2 793.3 240.9 M792.5 246.3 793.3 240.9 M787.8 227.8 789.1 234.0 792.0 239.9 M792.0 239.9 793.3 240.9 M723.5 336.0 724.1 330.2 723.2 324.4 M731.3 332.5 728.8 323.0 M728.8 323.0 723.2 324.4 M716.5 322.1 712.6 326.5 M716.5 322.1 717.0 322.0 M717.0 322.0 723.2 324.4 M717.5 283.7 718.7 284.2 724.9 284.8 M726.0 288.3 724.9 284.8 M726.0 288.3 721.7 296.6 M714.7 287.6 714.9 288.4 716.8 294.9 M716.8 294.9 721.7 296.6 M701.0 316.9 701.3 316.2 M688.0 313.5 690.0 309.8 M690.0 309.8 694.0 309.4 M701.3 316.2 694.0 309.4 M722.2 277.0 726.1 275.4 M724.9 284.8 729.5 279.1 M729.5 279.1 726.1 275.4 M647.2 290.0 648.3 284.7 650.3 279.8 M647.2 290.0 642.1 285.6 637.8 283.6 M637.4 282.1 642.5 279.9 649.6 279.0 M650.3 279.8 649.6 279.0 M659.6 281.8 660.3 282.4 M659.5 285.3 660.3 282.4 M647.5 290.8 647.2 290.0 M659.6 281.8 650.3 279.8 M654.2 268.1 651.2 272.4 649.2 277.2 M659.6 270.7 660.3 276.2 659.6 281.8 M649.2 277.2 649.6 279.0 M635.5 275.0 636.7 274.4 641.6 270.8 M641.0 263.2 636.5 259.3 636.2 259.1 M641.0 263.2 641.8 270.4 M641.8 270.4 641.6 270.8 M649.2 277.2 641.6 270.8 M616.5 270.9 622.3 268.8 M648.1 260.6 641.0 263.2 M653.0 266.1 647.5 268.6 641.8 270.4 M611.8 257.3 616.9 258.6 618.8 260.0 M619.9 260.8 621.2 261.7 623.8 262.7 M568.4 303.3 573.7 305.4 M567.7 302.0 568.4 303.3 M580.9 297.9 580.9 299.6 M580.9 299.6 573.7 305.4 M617.3 315.4 614.1 315.2 M608.4 324.1 607.9 321.8 M607.9 321.8 614.1 315.2 M595.8 330.2 596.4 324.6 M596.4 324.6 603.4 319.5 M607.9 321.8 603.4 319.5 M589.3 318.1 592.2 318.1 M589.3 318.1 584.2 310.4 M592.2 318.1 597.0 312.0 M597.0 312.0 589.2 306.4 M589.2 306.4 586.0 306.9 M584.2 310.4 586.0 306.9 M596.4 324.6 592.2 318.1 M585.1 322.2 589.3 318.1 M575.3 316.2 575.5 316.7 M576.5 314.1 584.2 310.4 M575.3 316.2 576.5 314.1 M580.9 299.6 586.0 306.9 M594.7 298.7 589.2 306.4 M576.5 314.1 573.7 305.4 M538.8 405.0 541.8 401.4 M538.8 405.0 539.1 410.6 540.8 416.0 M541.8 401.4 550.5 405.7 M550.5 405.7 547.3 414.8 M547.3 414.8 543.5 416.8 M540.8 416.0 543.5 416.8 M555.5 403.3 550.5 405.7 M555.5 403.3 561.5 407.4 M547.3 414.8 552.4 416.3 557.3 418.0 M561.5 407.4 559.2 412.6 557.3 418.0 M546.4 429.4 544.9 423.1 543.5 416.8 M556.3 427.7 559.1 421.6 M559.1 421.6 557.3 418.0 M648.9 419.5 643.7 417.7 M648.9 419.5 652.0 414.8 M643.7 417.7 645.0 408.6 M652.0 414.8 649.6 409.1 M649.6 409.1 645.0 408.6 M646.3 430.2 642.0 427.4 637.2 425.7 M640.9 418.3 637.2 425.7 M649.4 420.4 648.9 419.5 M640.9 418.3 643.7 417.7 M656.4 413.9 652.0 414.8 M633.0 411.1 637.3 414.3 640.9 418.3 M640.1 403.8 645.0 408.6 M653.1 405.8 649.6 409.1 M630.6 412.5 626.1 421.2 M626.1 421.2 626.6 422.0 M637.2 425.7 636.6 426.0 M636.6 426.0 631.4 424.5 626.6 422.0 M639.6 440.4 634.0 435.2 M636.6 426.0 634.0 435.2 M564.3 438.7 569.9 440.9 574.9 444.3 M571.5 455.4 574.7 452.3 M574.9 444.3 574.7 452.3 M574.9 444.3 580.0 441.0 M564.5 437.4 568.1 433.6 M580.0 441.0 579.2 433.5 M568.1 433.6 573.7 433.6 579.2 433.5 M598.7 482.4 599.4 477.4 M610.9 474.2 607.7 473.1 M599.4 477.4 607.7 473.1 M625.2 421.0 620.0 422.8 615.6 426.1 M625.2 421.0 619.9 418.3 615.7 414.0 M615.6 426.1 612.2 422.2 608.6 418.6 M615.7 414.0 613.4 414.0 M613.4 414.0 609.3 416.5 M609.3 416.5 608.6 418.6 M622.1 407.7 615.7 414.0 M626.1 421.2 625.2 421.0 M612.1 401.4 612.7 407.7 613.4 414.0 M602.3 403.1 608.0 399.3 M601.2 408.2 604.4 413.1 609.3 416.5 M602.3 403.1 601.2 408.2 M601.1 424.8 598.4 418.0 594.5 411.9 M601.1 424.8 601.5 424.7 M601.5 424.7 608.6 418.6 M601.2 408.2 594.5 411.9 M596.0 399.3 593.9 391.6 M596.0 399.3 588.2 404.5 M588.2 404.5 586.7 403.1 M586.7 403.1 586.6 396.8 586.6 390.5 M586.6 390.5 593.9 391.6 M602.3 403.1 596.0 399.3 M599.6 387.9 593.9 391.6 M594.1 411.9 594.5 411.9 M588.8 407.6 588.2 404.5 M594.1 411.9 588.8 407.6 M584.4 388.9 577.4 392.6 M584.4 388.9 586.6 390.5 M577.4 392.6 578.1 397.7 580.0 402.6 M580.0 402.6 586.7 403.1 M584.2 385.0 584.4 388.9 M588.9 377.5 584.2 385.0 M516.4 508.9 522.4 502.6 M516.4 508.9 507.0 505.7 M507.0 505.7 505.3 497.4 M522.7 499.1 517.7 495.4 512.7 491.6 M522.7 499.1 522.4 502.6 M512.7 491.6 505.3 497.4 M517.3 514.2 516.4 508.9 M530.4 508.5 522.4 502.6 M497.6 515.5 502.9 511.2 507.0 505.7 M496.4 494.4 505.3 497.4 M513.4 483.8 512.7 491.6 M527.2 495.6 522.7 499.1 M540.0 416.2 534.2 414.9 529.2 411.8 M540.0 416.2 536.2 421.2 531.1 425.1 M529.2 411.8 527.7 417.0 524.3 421.3 M531.1 425.1 524.3 421.3 M532.2 404.8 538.8 405.0 M540.8 416.0 540.0 416.2 M528.5 409.6 529.2 411.8 M532.1 427.9 531.1 425.1 M520.8 421.6 524.3 421.3 M520.8 421.6 518.9 431.2 M520.7 385.6 516.4 388.6 512.4 391.7 509.0 395.7 M491.2 384.4 491.3 384.6 M509.0 395.7 504.5 393.1 500.5 389.6 495.6 387.6 491.3 384.6 M470.4 408.7 476.3 407.5 481.7 404.2 487.8 403.3 M491.3 384.6 489.5 390.7 489.3 397.2 487.8 403.3 M544.1 339.0 542.8 344.5 543.3 350.1 M553.0 350.7 552.9 350.9 M551.1 333.7 552.6 339.3 552.2 345.1 553.0 350.7 M551.0 333.7 551.1 333.7 M543.3 350.1 552.9 350.9 M530.2 346.7 534.2 350.0 538.7 352.5 M543.3 350.1 538.7 352.5 M529.6 363.1 534.4 359.8 538.7 356.0 M538.7 356.0 538.7 352.5 M541.8 401.3 535.9 395.2 M541.8 401.3 547.1 393.3 M547.1 393.3 546.8 391.7 M546.8 391.7 538.4 387.7 M535.9 395.2 537.5 388.4 M537.5 388.4 538.4 387.7 M541.8 401.4 541.8 401.3 M529.8 398.1 535.9 395.2 M555.4 399.5 551.2 396.4 547.1 393.3 M555.5 403.3 555.4 399.5 M528.0 397.4 526.2 391.4 522.6 386.2 M522.6 386.2 527.7 386.1 532.6 387.2 537.5 388.4 M522.6 386.2 522.0 385.7 M537.6 379.1 539.7 381.7 M539.7 381.7 538.4 387.7 M539.7 381.7 545.1 379.6 550.6 378.0 M546.8 391.7 550.7 388.2 553.9 384.1 M550.6 378.0 553.9 384.1 M555.4 399.5 559.8 394.2 563.2 388.4 M553.9 384.1 558.9 385.5 563.2 388.4 M532.0 313.1 532.1 312.2 M539.0 305.4 536.6 306.1 M532.1 312.2 536.6 306.1 M517.0 312.0 522.2 305.5 M532.1 312.2 526.7 309.5 522.2 305.5 M576.2 339.1 570.8 337.2 565.0 336.7 M573.8 325.9 569.0 327.3 M569.0 327.3 567.1 332.0 565.0 336.7 M563.0 347.2 558.2 349.3 553.0 350.7 M563.0 347.2 563.4 337.3 M551.1 333.7 554.5 333.3 M554.5 333.3 563.4 337.3 M563.0 347.2 569.1 352.2 M563.4 337.3 565.0 336.7 M557.1 318.2 561.1 311.6 M557.1 318.2 560.4 323.2 M560.4 323.2 563.2 322.9 M563.2 322.9 568.7 315.4 M568.7 315.4 564.6 311.6 M561.1 311.6 564.6 311.6 M549.6 317.3 557.1 318.2 M555.9 306.1 561.1 311.6 M554.5 333.3 558.4 328.8 560.4 323.2 M569.0 327.3 563.2 322.9 M575.3 316.2 568.7 315.4 M568.4 303.3 564.6 311.6 M714.7 364.9 715.7 364.2 M707.2 356.3 713.9 358.1 M715.7 364.2 713.9 358.1 M707.9 348.8 713.6 349.3 719.1 351.0 M713.9 358.1 719.1 351.0 M722.2 347.6 719.5 350.8 M719.5 350.8 719.1 351.0 M734.4 358.2 731.8 361.0 M739.3 372.4 731.2 370.4 M731.2 370.4 731.8 361.0 M719.5 350.8 721.6 355.9 723.5 361.0 M731.8 361.0 723.5 361.0 M715.7 364.2 719.3 364.7 M723.5 361.0 719.3 364.7 M671.8 334.7 666.7 326.4 M660.7 334.9 665.1 326.0 M666.7 326.4 665.1 326.0 M679.1 323.6 674.8 322.3 M666.7 326.4 674.8 322.3 M680.9 312.7 678.3 309.7 M678.3 309.7 670.9 314.4 M674.8 322.3 670.9 314.4 M736.0 333.8 737.9 332.2 M737.9 332.2 745.9 333.9 M743.8 342.4 746.6 337.0 M746.6 337.0 745.9 333.9 M754.7 347.7 752.7 338.9 M746.6 337.0 752.7 338.9 M762.4 336.5 755.9 334.8 M752.7 338.9 755.9 334.8 M775.3 339.6 769.2 343.0 M775.3 339.6 780.6 341.0 M721.7 296.6 724.9 301.2 M724.9 301.2 730.4 298.2 736.4 296.3 M726.0 288.3 730.8 289.9 735.8 290.7 M735.8 290.7 736.4 296.3 M532.9 226.2 526.6 225.0 520.1 224.9 M532.9 226.2 536.1 229.2 M536.1 229.2 531.8 233.4 528.7 238.5 M520.1 224.9 521.0 229.9 522.3 234.8 M522.3 234.8 526.4 238.3 M528.7 238.5 526.4 238.3 M519.1 224.0 520.1 224.9 M535.0 211.3 533.4 216.2 533.2 221.2 532.9 226.2 M537.7 229.5 536.1 229.2 M533.4 243.9 528.7 238.5 M512.1 241.7 517.4 238.5 522.3 234.8 M521.1 246.9 524.4 243.0 526.4 238.3 M699.9 417.0 703.4 424.7 M709.4 419.7 705.1 425.1 M703.4 424.7 705.1 425.1 M714.1 428.1 707.2 427.4 M705.1 425.1 707.2 427.4 M716.0 435.3 710.7 436.3 705.4 436.9 M707.2 427.4 705.4 436.9 M702.2 443.7 702.6 439.5 M702.6 439.5 705.4 436.9 M682.3 415.4 682.4 416.7 M669.6 422.0 675.0 422.6 680.3 421.7 M682.4 416.7 680.3 421.7 M696.9 415.9 692.6 420.3 M682.4 416.7 687.7 418.0 692.6 420.3 M680.9 427.1 681.3 424.9 M681.3 424.9 680.3 421.7 M733.7 380.7 728.9 385.9 M733.7 380.7 729.2 372.4 M729.2 372.4 724.2 373.8 M725.4 384.7 728.9 385.9 M725.4 384.7 725.8 379.2 724.1 374.0 M724.1 374.0 724.2 373.8 M736.1 380.8 733.7 380.7 M732.8 392.3 728.9 385.9 M731.2 370.4 729.2 372.4 M719.3 364.7 720.9 369.7 724.2 373.8 M720.4 387.2 725.4 384.7 M715.8 376.6 724.1 374.0 M822.4 271.7 822.2 272.7 822.3 275.6 M775.5 260.2 775.2 254.7 M775.5 260.2 783.5 261.9 M775.2 254.7 781.9 251.7 M781.9 251.7 787.0 259.0 M787.0 259.0 783.5 261.9 M783.0 247.9 791.7 247.0 M791.6 258.7 792.3 252.9 791.7 247.0 M791.6 258.7 791.6 258.7 M781.9 251.7 783.0 247.9 M787.0 259.0 791.6 258.7 M791.7 247.0 792.5 246.3 M800.6 249.9 800.0 255.6 M791.6 258.7 793.9 258.8 M800.0 255.6 793.9 258.8 M787.6 227.8 784.1 231.3 781.8 235.9 M776.0 230.7 777.6 231.5 781.8 235.9 M792.0 239.9 786.8 239.8 781.8 238.8 M781.8 235.9 781.8 238.8 M728.8 323.0 729.3 322.5 M737.9 332.2 739.2 324.5 M729.3 322.5 734.4 322.5 739.2 324.5 M716.5 322.1 713.9 317.6 M701.3 316.2 703.7 313.9 M703.7 313.9 709.1 314.9 713.9 317.6 M677.0 291.7 671.4 288.8 M673.8 301.6 671.2 301.8 M671.4 288.8 665.9 294.9 M671.2 301.8 666.3 299.2 M665.9 294.9 666.3 299.2 M678.3 309.7 678.6 304.3 M690.0 309.8 686.8 304.7 M660.3 282.4 668.9 282.0 M668.9 282.0 671.4 288.8 M660.8 291.2 665.9 294.9 M660.6 302.2 666.3 299.2 M682.3 280.9 676.7 280.4 670.5 280.0 M675.2 266.9 670.4 268.4 M670.4 268.4 669.5 274.2 670.5 280.0 M707.3 293.4 710.3 296.9 M712.7 297.1 710.3 296.9 M716.8 294.9 712.7 297.1 M725.6 269.8 726.1 275.4 M668.9 282.0 670.5 280.0 M670.2 268.4 670.4 268.4 M737.7 273.3 734.7 268.3 M737.7 273.3 737.4 274.6 M729.5 279.1 732.0 279.1 M737.4 274.6 732.0 279.1 M735.8 290.7 736.8 288.7 M732.0 279.1 735.1 283.5 736.8 288.7 M783.5 261.9 783.2 269.1 M770.1 269.5 776.7 269.2 783.2 269.1 M770.1 269.5 769.5 267.0 M775.5 260.2 769.5 266.9 M769.5 266.9 769.5 267.0 M609.0 310.0 601.6 314.0 M609.0 310.0 609.1 303.0 M601.6 300.8 599.9 306.4 597.6 311.9 M601.6 300.8 609.1 303.0 M597.6 311.9 601.6 314.0 M603.4 319.5 601.6 314.0 M614.1 315.2 609.0 310.0 M611.5 301.6 609.1 303.0 M599.2 297.9 601.6 300.8 M597.0 312.0 597.6 311.9 M558.7 476.7 557.5 483.7 557.7 490.8 M568.3 476.5 567.6 483.6 566.7 490.8 M566.7 490.8 560.0 491.9 M557.7 490.8 560.0 491.9 M574.8 490.8 569.4 492.6 M574.8 490.8 579.4 494.3 M569.4 492.6 570.5 498.0 571.2 503.3 571.1 503.9 M579.4 494.3 578.3 499.4 576.8 504.5 576.7 505.3 M576.7 485.2 574.8 490.8 M571.4 477.7 568.5 476.4 M566.7 490.8 569.4 492.6 M585.3 491.9 579.4 494.3 M560.0 491.9 561.6 497.0 562.5 502.2 562.6 502.8 M589.4 496.0 586.0 500.6 583.1 504.6 M569.7 392.6 577.4 392.6 M569.7 392.6 569.8 397.9 568.8 403.1 M580.0 402.6 576.5 406.0 M576.5 406.0 568.8 403.1 M561.5 407.4 564.3 407.2 M569.7 392.6 564.8 388.1 M564.8 388.1 563.2 388.4 M568.8 403.1 564.3 407.2 M601.1 424.8 594.9 429.0 M594.1 411.9 588.6 419.3 M594.9 429.0 592.6 423.6 588.6 419.3 M590.9 438.9 594.0 432.6 M590.9 438.9 582.8 442.0 M582.8 442.0 580.0 441.0 M594.0 432.6 593.8 431.0 M579.2 433.5 581.5 429.8 M593.8 431.0 587.6 431.0 581.5 429.8 M585.5 475.3 587.7 468.9 M599.4 477.4 597.2 472.7 593.9 468.7 M593.9 468.7 587.7 468.9 M577.1 465.0 585.2 465.7 M587.7 468.9 585.2 465.7 M626.6 422.0 624.6 427.7 624.7 433.7 M634.0 435.2 627.9 435.6 M624.7 433.7 627.9 435.6 M601.5 424.7 605.2 428.1 608.7 431.8 M615.6 426.1 615.2 429.0 M615.2 429.0 608.7 431.8 M624.7 433.7 620.2 434.9 M615.2 429.0 620.2 434.9 M514.6 405.6 513.7 411.8 514.9 417.9 M514.6 405.6 510.2 401.5 M510.2 401.5 505.0 405.2 500.2 409.4 494.9 413.0 M514.9 417.9 507.4 422.0 M507.4 422.0 500.9 420.2 494.7 417.7 M494.7 417.7 494.9 413.0 M520.8 421.6 514.9 417.9 M518.0 405.4 514.6 405.6 M509.0 395.7 510.2 401.5 M487.8 403.3 492.0 407.6 494.9 413.0 M508.0 433.4 508.6 427.7 507.4 422.0 M493.7 418.9 494.7 417.7 M569.5 356.5 563.8 360.5 M552.9 350.9 554.4 359.4 M554.4 359.4 563.8 360.5 M565.2 387.2 564.9 382.1 563.1 377.2 563.3 372.0 M565.2 387.2 570.3 383.1 574.8 378.3 M574.8 378.3 574.8 374.5 M564.4 371.0 563.3 372.0 M564.4 371.0 572.5 371.5 M572.5 371.5 574.8 374.5 M564.8 388.1 565.2 387.2 M584.2 385.0 580.1 380.8 574.8 378.3 M583.7 371.8 574.8 374.5 M563.8 360.5 563.9 365.8 564.4 371.0 M576.0 360.8 573.2 365.8 572.5 371.5 M522.5 302.8 529.5 299.4 M522.5 302.8 519.6 298.4 515.4 295.2 M515.4 295.2 524.0 290.9 M524.0 290.9 530.7 294.9 M530.7 294.9 529.5 299.4 M536.6 306.1 529.5 299.4 M522.2 305.5 522.5 302.8 M514.4 294.9 515.4 295.2 M525.5 283.1 524.0 290.9 M534.9 291.9 530.7 294.9 M657.1 323.3 663.8 324.7 M657.1 323.3 656.3 317.2 M663.8 324.7 665.5 319.0 666.5 313.1 M656.3 317.2 662.1 311.5 M662.1 311.5 666.3 312.9 M666.3 312.9 666.5 313.1 M655.8 324.3 657.1 323.3 M665.1 326.0 663.8 324.7 M651.2 314.6 656.3 317.2 M670.9 314.4 666.5 313.1 M659.1 306.5 662.1 311.5 M671.2 301.8 668.8 307.4 666.3 312.9 M738.9 298.2 742.8 298.8 M749.6 306.7 746.4 302.6 742.8 298.8 M738.9 298.2 738.1 305.2 735.4 311.8 M743.2 315.0 735.4 311.8 M749.6 306.7 749.6 307.0 M743.2 315.0 746.7 312.6 M749.6 307.0 746.7 312.6 M757.3 323.9 751.7 323.1 746.1 324.1 M757.3 323.9 754.1 331.0 M754.1 331.0 747.8 331.4 M746.1 324.1 747.8 331.4 M746.7 312.6 751.6 315.0 754.9 319.4 759.6 322.0 M759.6 322.0 757.3 323.9 M743.2 315.0 742.8 321.3 M742.8 321.3 746.1 324.1 M745.9 333.9 747.8 331.4 M755.9 334.8 754.1 331.0 M739.2 324.5 742.8 321.3 M698.5 427.6 698.6 434.7 M698.5 427.6 692.7 425.5 M691.6 426.3 692.7 425.5 M691.6 426.3 689.5 434.2 M689.5 434.2 698.6 434.7 M703.4 424.7 698.5 427.6 M702.6 439.5 698.6 434.7 M692.6 420.3 692.7 425.5 M681.3 424.9 686.4 425.9 691.6 426.3 M686.2 436.9 689.5 434.2 M816.2 265.4 813.1 267.3 M808.6 257.6 807.9 258.4 M807.9 258.4 811.2 262.4 813.1 267.3 M800.0 255.6 806.1 258.8 M807.9 258.4 806.1 258.8 M779.8 243.2 779.7 241.8 M779.8 243.2 775.3 247.4 769.8 250.1 M779.7 241.8 771.7 238.4 M771.7 238.4 764.0 244.2 M769.8 250.1 763.3 248.6 M764.0 244.2 763.3 248.6 M783.0 247.9 779.8 243.2 M781.8 238.8 779.7 241.8 M775.2 254.7 769.8 250.1 M772.0 231.7 771.7 238.4 M759.7 235.9 762.0 239.6 764.0 244.2 M761.2 253.4 764.9 257.4 767.6 261.9 769.5 266.9 M762.2 249.7 761.2 253.4 M762.2 249.7 763.3 248.6 M751.1 246.8 752.1 247.3 757.1 248.6 762.2 249.7 M734.4 311.9 729.9 317.2 M734.4 311.9 729.7 307.5 724.6 303.5 M729.9 317.2 722.8 314.3 M722.8 314.3 721.2 307.3 M721.2 307.3 724.6 303.5 M729.3 322.5 729.9 317.2 M735.4 311.8 734.4 311.9 M724.9 301.2 724.6 303.5 M736.4 296.3 738.9 298.2 M717.0 322.0 722.8 314.3 M713.9 317.6 715.9 308.4 M715.9 308.4 721.2 307.3 M715.9 308.4 712.6 307.0 M712.7 297.1 712.6 307.0 M705.4 301.5 700.9 298.3 M705.4 301.5 706.4 308.0 M705.2 309.2 706.4 308.0 M705.2 309.2 697.1 304.1 M697.1 304.1 696.6 301.7 M710.3 296.9 705.4 301.5 M712.6 307.0 706.4 308.0 M703.7 313.9 705.2 309.2 M694.0 309.4 697.1 304.1 M737.4 274.6 743.0 281.3 M736.8 288.7 742.3 285.6 M743.0 281.3 742.3 285.6 M750.9 260.1 754.6 259.5 M747.4 262.4 747.7 270.4 M754.6 259.5 757.8 266.2 M747.7 270.4 748.6 271.2 M748.6 271.2 755.9 270.8 M755.9 270.8 757.8 266.2 M761.2 253.4 754.6 259.5 M737.7 273.3 742.6 271.5 747.7 270.4 M769.5 267.0 763.6 266.9 757.8 266.2 M743.0 281.3 749.5 278.3 M749.5 278.3 748.6 271.2 M770.1 269.5 770.0 270.3 M770.0 270.3 764.6 272.5 759.4 274.9 M759.4 274.9 755.9 270.8 M556.9 491.0 551.9 498.7 M556.9 491.0 551.6 490.4 547.0 487.8 M551.9 498.7 542.7 496.3 M547.0 487.8 542.7 496.3 M557.7 490.8 556.9 491.0 M555.2 504.1 554.9 503.4 551.9 498.7 M545.6 482.3 547.0 487.8 M542.6 496.3 542.7 496.3 M579.2 414.7 578.5 414.3 M579.2 414.7 581.5 418.5 M578.5 414.3 570.7 416.3 M581.5 418.5 579.8 426.3 M579.8 426.3 569.9 425.2 M570.7 416.3 567.8 421.3 M567.8 421.3 569.9 425.2 M588.8 407.6 583.4 410.3 579.2 414.7 M576.5 406.0 578.5 414.3 M588.6 419.3 581.5 418.5 M564.3 407.2 567.1 412.0 570.7 416.3 M594.9 429.0 593.8 431.0 M581.5 429.8 579.8 426.3 M568.1 433.6 569.9 425.2 M559.1 421.6 567.8 421.3 M607.7 473.1 603.6 466.0 M593.9 468.7 599.2 464.5 M603.6 466.0 599.2 464.5 M582.8 442.0 586.0 449.7 M590.9 438.9 593.7 447.7 M593.7 447.7 586.0 449.7 M574.7 452.3 583.8 453.7 M586.0 449.7 583.8 453.7 M585.2 465.7 586.2 458.5 M599.2 464.5 599.0 459.3 599.1 454.1 M599.1 454.1 592.9 456.9 586.2 458.5 M583.8 453.7 586.2 458.5 M552.8 361.6 553.0 366.9 553.8 372.2 M552.8 361.6 547.8 362.4 542.7 362.1 M540.5 368.5 545.8 372.0 551.0 375.4 M540.5 368.5 542.7 362.1 M551.0 375.4 553.8 372.2 M554.4 359.4 552.8 361.6 M563.3 372.0 553.8 372.2 M538.7 356.0 542.7 362.1 M550.6 378.0 551.0 375.4 M538.9 369.3 540.5 368.5 M791.6 258.7 790.7 264.5 791.8 270.3 M783.2 269.1 783.6 269.6 M783.6 269.6 791.8 270.3 M785.2 301.0 780.1 300.5 M787.5 306.7 787.1 306.8 780.9 309.7 M780.1 300.5 778.5 306.9 M780.9 309.7 778.5 306.9 M800.9 293.4 799.8 291.3 M798.6 291.1 799.8 291.3 M790.1 294.6 790.9 299.6 M793.9 258.8 800.5 265.7 M806.1 258.8 802.1 265.9 M800.5 265.7 802.1 265.9 M791.8 270.3 793.0 271.4 M800.5 265.7 793.0 271.4 M742.8 298.8 749.1 292.0 M742.3 285.6 748.4 289.1 M749.1 292.0 748.4 289.1 M749.6 306.7 754.4 302.8 757.6 297.5 M757.6 297.5 756.9 295.4 M749.1 292.0 756.9 295.4 M777.9 280.2 777.1 285.9 775.3 291.3 M777.9 280.2 782.4 279.9 M782.4 279.9 784.6 281.2 M784.6 281.2 784.6 290.7 M784.6 290.7 778.8 293.5 M778.8 293.5 775.3 291.3 M772.1 277.4 777.9 280.2 M772.1 277.4 769.0 281.8 765.1 285.6 M765.1 285.6 770.1 291.4 M770.1 291.4 775.3 291.3 M783.6 269.6 782.3 274.7 782.4 279.9 M770.0 270.3 772.1 277.4 M788.7 280.6 784.6 281.2 M788.7 280.6 793.8 274.0 M793.8 274.0 793.0 271.4 M789.2 292.9 784.6 290.7 M792.9 284.3 788.7 280.6 M792.9 284.3 792.9 290.0 M779.1 299.1 780.1 300.5 M779.1 299.1 778.8 293.5 M770.3 301.4 767.9 297.0 M770.1 291.4 767.9 297.0 M779.1 299.1 770.3 301.4 M612.4 473.6 614.9 464.6 M603.6 466.0 611.8 461.2 M614.9 464.6 611.8 461.2 M627.7 470.2 624.2 464.4 M614.9 464.6 624.2 464.4 M594.0 432.6 598.2 437.2 603.3 440.6 M593.7 447.7 597.8 450.0 M603.3 440.6 600.8 445.5 597.8 450.0 M608.7 431.8 608.4 440.0 M603.3 440.6 608.4 440.0 M599.1 454.1 599.2 453.9 M597.8 450.0 599.2 453.9 M620.2 434.9 618.1 438.1 M618.1 438.1 608.6 440.2 M608.4 440.0 608.6 440.2 M759.6 322.0 763.0 321.3 M763.2 336.2 763.4 335.8 M766.3 331.4 766.6 330.9 M763.0 321.3 764.7 324.5 M766.2 329.3 766.6 330.9 M775.3 339.6 771.2 332.1 M771.2 332.1 766.6 330.9 M778.9 329.9 776.5 328.9 M771.2 332.1 776.5 328.9 M783.4 324.7 782.4 324.4 777.6 322.2 M787.5 315.9 786.3 315.4 780.6 314.9 M777.6 322.2 777.6 322.2 M777.6 322.2 778.7 316.5 M780.6 314.9 778.7 316.5 M776.5 328.9 776.8 327.3 M777.3 324.0 777.6 322.2 M780.9 309.7 780.6 314.9 M763.0 321.3 763.0 321.2 M763.0 321.2 770.3 321.3 777.6 322.2 M793.8 274.0 797.7 275.7 M792.9 284.3 800.4 282.8 M797.7 275.7 800.4 282.8 M799.8 291.3 800.1 290.6 M801.8 285.5 802.3 284.0 M800.4 282.8 802.3 284.0 M804.1 284.7 802.3 284.0 M802.3 284.0 802.3 284.0 M764.4 285.6 760.4 288.1 M764.4 285.6 758.6 277.7 M760.4 288.1 752.4 284.4 M758.6 277.7 752.1 280.3 M752.1 280.3 752.4 284.4 M759.4 298.4 767.9 297.0 M757.6 297.5 759.4 298.4 M765.1 285.6 764.4 285.6 M756.9 295.4 760.4 288.1 M759.4 274.9 758.6 277.7 M748.4 289.1 752.4 284.4 M749.5 278.3 752.1 280.3 M773.3 307.8 769.7 304.7 M773.3 307.8 772.5 313.2 M769.7 304.7 763.7 307.7 M772.5 313.2 763.9 317.4 M763.7 307.7 762.2 311.1 M762.2 311.1 763.9 317.4 M778.5 306.9 773.3 307.8 M770.3 301.4 769.7 304.7 M778.7 316.5 772.5 313.2 M759.4 298.4 761.1 303.3 763.7 307.7 M763.0 321.2 763.9 317.4 M749.6 307.0 755.6 309.9 762.2 311.1 M611.4 455.9 618.4 454.9 625.5 455.1 M611.4 455.9 609.9 453.7 M609.9 453.7 611.6 448.9 M611.6 448.9 621.2 446.6 M621.2 446.6 627.2 450.0 M627.3 450.1 627.2 450.0 M627.3 450.1 627.2 452.7 M627.2 452.7 625.5 455.1 M611.8 461.2 611.4 455.9 M624.2 464.4 625.5 455.1 M599.2 453.9 604.6 454.4 609.9 453.7 M608.6 440.2 611.6 448.9 M618.1 438.1 621.2 446.6 M627.9 435.6 627.0 442.8 627.2 450.0 M637.4 445.0 632.2 447.2 627.3 450.1 M637.3 458.5 632.8 454.7 627.2 452.7 M805.0 269.8 804.4 272.4 M805.0 269.8 813.1 267.4 M804.4 272.4 807.8 277.5 M814.6 273.5 813.1 267.4 M814.6 273.5 808.9 277.7 M808.9 277.7 807.8 277.5 M802.1 265.9 805.0 269.8 M797.7 275.7 804.4 272.4 M813.1 267.3 813.1 267.4 M802.3 284.0 807.8 277.5 M819.6 276.6 814.6 273.5 M811.9 281.0 808.9 277.7"/>
<path fill="none" stroke="#d2d2d2" stroke-width="0.5" d="M243.1 509.1 250.1 513.1 251.1 518.1 258.1 516.1 266.1 517.1 274.1 515.7 278.1 519.1 280.2 528.1 M218.1 520.1 226.1 524.1 238.1 523.1 241.1 528.1 238.1 534.1 242.1 544.1 M258.1 516.1 255.1 526.1 250.1 534.1 M266.1 517.1 268.1 524.1 264.1 528.1 M228.0 497.0 236.0 500.0 243.1 509.1 M226.1 524.1 224.0 530.0 228.0 536.0"/>
<g fill="none" stroke="#bcbcbc" stroke-width="0.75" stroke-linejoin="round">
<path d="M226.8 161.7 L225.4 169.1 L225.9 178.3 L226.4 185.9 L224.1 195.6 L223.4 201.5 L218.8 214.9 L213.1 229.8 L205.1 243.9 L202.7 245.9 L201.6 259.5 L201.5 267.8 L197.9 277.5 L193.1 282.9 L195.7 291.0 L195.7 299.3 L194.1 308.9 L199.6 320.5 L198.5 325.1 L203.3 329.9 L201.9 334.5 L201.4 340.9 L205.5 344.6 L207.3 347.6 L204.6 350.1 L204.0 354.9 L208.7 366.2 L212.8 373.1 L214.3 377.6 L212.5 385.3 L213.9 388.2 L223.3 391.5 L228.6 396.9 L233.1 400.5 L237.2 405.6 L240.8 407.2 L246.1 413.4 L248.5 420.5 L249.1 428.3 L280.9 431.9 L279.1 435.1 L324.9 462.3 L363.0 467.8 L363.9 460.7 L386.2 463.4 L387.8 464.5 L394.4 472.2 L404.9 482.8 L408.3 490.8 L411.9 501.3 L427.9 511.9 L434.9 500.9 L440.6 498.4 L450.6 500.3 L459.3 507.8 L464.3 518.4 L477.5 537.9 L477.9 545.8 L481.9 553.0 L486.8 556.3 L494.6 560.9 L506.7 564.6 L510.3 562.9 L509.7 554.4 L507.0 541.8 L512.1 533.2 L521.2 524.6 L536.5 515.9 L544.0 509.5 L552.9 504.7 L556.3 503.8 L565.2 502.5 L577.7 505.5 L582.4 504.2 L591.6 508.8 L597.3 512.5 L606.9 511.2 L618.1 512.8 L621.5 511.0 L618.3 505.7 L613.9 501.2 L616.9 495.5 L614.0 493.3 L623.3 489.4 L630.2 489.7 L635.1 490.9 L642.5 489.8 L655.9 486.9 L664.3 488.9 L672.3 496.3 L678.8 495.2 L686.3 488.8 L691.7 488.1 L699.4 494.2 L706.0 501.3 L710.9 507.0 L711.1 518.1 L714.3 525.6 L720.5 534.3 L724.2 540.1 L729.4 545.6 L735.8 549.4 L741.6 558.8 L748.8 557.6 L751.4 555.6 L753.1 548.2 L753.6 538.6 L752.3 529.3 L746.7 519.0 L740.7 506.8 L734.9 498.6 L728.2 486.9 L724.7 477.8 L723.3 473.2 L724.1 465.1 L725.5 456.8 L727.9 450.8 L732.4 445.3 L738.7 438.6 L745.3 430.1 L747.9 422.4 L752.9 417.1 L760.3 415.7 L764.7 406.3 L774.5 399.4 L776.6 400.3 L781.3 391.4 L786.7 387.8 L785.2 379.2 L778.1 368.5 L775.3 362.9 L771.3 362.6 L769.4 353.2 L766.9 347.2 L762.7 333.4 L762.6 326.9 L766.1 322.9 L766.3 332.7 L767.1 342.3 L773.2 347.5 L774.0 357.1 L775.0 359.9 L777.9 351.4 L780.6 341.0 L781.6 336.7 L780.0 331.3 L774.5 324.4 L771.7 320.1 L772.8 322.3 L779.5 324.9 L781.1 328.9 L785.9 320.1 L788.6 313.0 L787.0 303.5 L784.3 302.5 L786.1 299.6 L790.9 299.6 L802.6 292.3 L809.0 287.1 L800.9 290.3 L790.8 294.1 L788.2 295.8 L788.8 293.2 L796.5 287.3 L806.6 283.9 L808.2 283.2 L812.4 280.7 L814.8 278.4 L817.1 277.8 L820.9 276.0 L828.2 273.9 L828.1 271.5 L827.1 267.7 L823.7 266.4 L826.6 270.3 L821.6 272.0 L818.4 269.2 L816.8 265.5 L813.6 264.8 L814.4 261.2 L816.8 258.9 L813.7 256.2 L813.9 252.8 L814.6 248.8 L817.0 242.4 L821.0 239.6 L827.5 233.6 L829.4 228.1 L835.9 226.2 L841.5 221.2 L846.8 214.5 L844.3 209.5 L839.3 208.6 L838.4 203.9 L833.7 203.7 L827.6 183.0 L822.0 180.1 L815.5 184.8 L813.5 183.4 L811.0 181.5 L806.2 195.3 L806.9 200.0 L805.1 203.8 L806.7 207.5 L806.0 210.9 L803.2 217.4 L800.6 219.8 L797.5 222.2 L797.2 225.4 L762.6 234.1 L756.6 237.9 L752.4 245.3 L747.7 250.3 L751.0 260.2 L747.9 262.1 L736.3 268.0 L719.9 270.8 L721.1 274.1 L722.6 276.3 L714.6 287.9 L706.6 293.9 L694.2 303.6 L682.5 305.3 L673.3 302.9 L675.5 297.4 L676.2 293.3 L678.9 288.1 L682.4 281.2 L679.0 272.1 L674.0 265.2 L664.2 273.3 L667.8 265.6 L669.6 262.2 L666.6 250.4 L658.3 244.5 L650.8 240.9 L648.6 247.2 L642.9 251.1 L642.7 254.3 L637.3 256.5 L635.9 259.8 L634.2 270.3 L637.8 283.5 L639.8 291.3 L637.3 301.1 L634.3 306.9 L629.8 309.4 L626.0 308.6 L621.9 299.4 L621.6 296.2 L619.8 287.9 L621.0 275.5 L622.5 267.4 L626.7 251.5 L617.7 263.9 L620.3 254.9 L625.1 246.5 L625.4 244.1 L631.5 243.5 L637.7 239.7 L647.4 237.0 L650.8 239.5 L656.2 236.8 L663.9 235.8 L656.7 231.9 L653.6 229.2 L646.6 225.7 L640.8 227.8 L635.5 228.5 L628.8 233.2 L620.5 231.9 L616.8 227.5 L608.7 229.0 L615.5 218.5 L605.5 222.9 L599.4 228.4 L587.8 234.0 L582.3 233.9 L583.1 228.3 L578.9 230.1 L569.2 232.1 L577.5 223.9 L587.8 215.4 L595.0 211.1 L590.7 209.8 L582.7 210.2 L575.8 211.1 L569.3 207.8 L559.0 203.1 L550.1 204.9 L541.1 201.7 L539.1 192.6 L535.7 191.7 L535.7 197.7 L526.8 197.7 L516.3 197.7 L505.8 197.5 L495.3 197.2 L484.8 196.8 L474.3 196.3 L463.8 195.7 L453.4 195.0 L442.9 194.2 L432.4 193.2 L422.0 192.2 L411.6 191.0 L401.1 189.8 L390.7 188.4 L380.3 186.9 L369.9 185.3 L359.6 183.6 L349.2 181.8 L338.9 179.9 L328.6 177.8 L318.3 175.7 L308.1 173.4 L297.8 171.1 L287.6 168.6 L277.5 166.1 L267.3 163.4 L257.2 160.6 L249.5 158.4 L251.1 162.9 L248.5 167.9 L248.5 177.7 L245.8 185.1 L239.8 186.6 L245.1 179.9 L245.7 172.0 L239.1 169.7 L226.8 161.7 Z"/>
<path d="M224.0 195.9 L230.6 198.7 L234.3 201.4 L235.3 205.8 L235.0 209.0 L240.4 212.2 L248.5 212.0 L251.3 214.4 L258.2 214.3 L269.6 214.3 L276.1 215.4 L276.6 214.4 L298.6 219.6 M307.7 173.4 L298.8 212.7 L298.6 219.6 M298.6 219.6 L299.4 222.2 L301.4 228.3 L297.6 235.6 L294.9 239.8 L290.0 243.6 L291.0 247.1 L291.9 250.5 L289.8 253.3 L283.5 281.2 M201.6 259.5 L213.0 262.9 L224.4 266.2 L235.8 269.4 L247.3 272.5 L258.8 275.4 L270.4 278.2 L282.0 280.9 L293.6 283.5 L305.2 285.9 L316.9 288.2 L328.6 290.4 L340.3 292.5 L352.0 294.4 M249.8 273.1 L237.9 319.4 L289.1 396.6 M317.6 288.4 L302.6 366.7 L300.0 380.0 L290.9 379.8 L290.5 393.6 L289.1 396.6 L289.3 399.8 L291.0 405.9 L293.3 408.7 L288.6 412.7 L286.4 417.9 L283.3 421.4 L284.5 427.6 L280.9 431.9 M302.6 366.7 L315.2 369.0 L327.7 371.2 L340.4 373.3 L353.0 375.2 L365.6 377.0 L378.3 378.7 L391.0 380.2 L403.7 381.6 L416.4 382.9 L429.2 384.0 L441.9 385.0 L454.6 385.8 L467.4 386.5 L480.2 387.1 L492.9 387.5 L505.7 387.8 L518.5 388.0 L531.3 388.0 L544.1 387.9 M317.8 175.6 L314.5 191.2 L316.1 200.5 L320.0 204.1 L323.8 209.7 L325.6 214.8 L328.2 215.3 L325.8 222.1 L325.4 226.8 L322.8 231.8 L329.7 231.0 L330.7 237.5 L333.0 243.6 L336.5 252.3 L344.6 251.9 L353.4 253.6 L354.9 251.1 L358.2 255.5 M359.5 247.4 L349.5 310.1 M349.5 310.1 L361.2 311.9 L372.9 313.6 L384.6 315.2 L396.4 316.6 L408.1 317.9 L419.9 319.1 L431.7 320.2 L443.5 321.1 L455.3 321.9 M372.9 313.6 L351.8 466.3 M359.5 247.4 L370.5 249.1 L381.6 250.6 L392.7 252.1 L403.7 253.5 L414.8 254.7 L425.9 255.8 L437.0 256.8 M442.4 194.1 L431.7 320.2 M455.3 321.9 L454.3 337.8 M454.3 337.8 L467.7 338.6 L481.2 339.2 L494.7 339.7 L508.2 340.0 L521.7 340.1 L535.2 340.1 M454.3 337.8 L451.3 385.6 M438.3 242.0 L450.0 242.9 L461.8 243.7 L473.6 244.4 L485.3 244.9 L497.1 245.3 L508.9 245.6 L520.6 245.8 M434.4 288.4 L447.1 289.4 L459.8 290.3 L472.6 291.0 L485.3 291.6 L498.1 292.0 L503.7 295.8 L511.8 294.3 L518.7 298.7 L521.6 300.5 M513.9 197.6 L515.1 210.2 L517.7 219.6 L518.1 230.6 L520.7 240.1 L520.6 245.8 L517.4 251.1 L521.8 255.9 L521.7 284.4 L519.9 290.7 L521.6 300.5 L525.6 313.0 L528.0 321.0 L528.6 329.0 L535.2 340.1 L540.0 344.1 L537.7 347.3 L543.8 354.1 L544.1 387.9 L544.2 395.9 L546.9 413.4 L546.7 441.4 L552.4 442.8 L553.0 467.6 L556.3 475.3 L559.9 483.1 L558.1 494.3 L556.3 503.8 M521.7 284.4 L533.6 284.4 L545.5 284.2 L557.5 284.0 L569.4 283.6 L581.3 283.0 M529.5 330.9 L577.6 329.4 L581.4 332.8 M569.2 232.1 L567.1 233.8 L567.4 242.9 L562.6 246.6 L563.5 255.2 L563.2 264.0 L568.4 267.7 L573.1 271.5 L580.1 277.5 L581.3 283.0 L583.1 290.9 L583.4 295.7 L588.8 298.4 L594.3 304.6 L594.6 309.4 L591.4 314.4 L585.2 319.5 L584.9 325.9 L581.4 332.8 L580.8 338.9 L582.2 343.6 L591.1 351.1 L591.9 355.9 L597.5 357.1 L597.7 360.3 L596.3 366.8 L602.1 371.2 L607.7 380.5 L612.4 384.9 L609.8 393.1 L606.6 401.3 L603.0 415.1 L599.9 417.7 L596.5 425.9 L591.9 435.7 L590.4 445.4 L590.4 450.2 L591.7 458.1 L594.6 461.1 L588.5 472.5 L586.2 482.2 L611.4 480.7 L610.9 487.1 L614.0 493.3 M588.8 298.6 L605.2 297.5 L621.6 296.2 M587.8 234.0 L602.5 240.0 L613.7 242.5 L617.3 246.4 L617.2 251.2 L620.3 254.9 M626.0 308.6 L629.2 345.9 L628.9 351.6 L630.8 359.4 L625.4 367.9 L625.0 371.1 M657.5 305.3 L662.3 346.5 M634.3 306.9 L657.3 304.4 L657.7 305.3 L673.3 302.9 M710.1 315.0 L709.7 322.1 L708.6 330.4 L702.2 336.3 L699.3 341.5 L699.0 344.0 L695.0 350.2 L690.6 353.8 L685.1 349.7 L677.4 352.2 L670.4 350.4 L666.2 346.1 L662.3 346.5 L662.5 351.3 L655.4 353.7 L652.5 361.0 L646.0 363.6 L643.9 367.3 L636.7 370.4 L630.3 368.3 L625.0 371.1 L620.6 377.9 L619.1 383.1 L612.4 384.9 M544.2 395.9 L600.4 393.7 L598.1 401.9 L606.6 401.3 M552.6 451.5 L571.5 451.0 L590.4 450.2 M546.7 441.4 L537.2 437.4 L526.8 439.0 L519.0 438.2 L511.2 437.4 L502.1 437.2 L493.1 433.0 L485.3 430.4 L480.2 428.6 L475.2 425.9 L476.5 394.9 L438.8 392.8 M439.4 384.8 L438.8 392.8 L432.7 464.2 L385.4 459.8 L386.2 463.4 M609.8 393.1 L626.7 391.8 L626.5 389.0 L681.2 384.4 L706.1 381.0 L778.1 368.5 M599.9 417.7 L626.8 415.8 L660.1 412.9 L676.4 410.9 L691.9 408.7 M676.4 410.9 L679.0 404.0 L685.6 400.4 L692.5 394.1 L696.0 392.0 L702.6 389.1 L706.1 381.0 M626.8 415.8 L627.3 465.3 L630.2 489.7 M660.1 412.9 L669.3 445.7 L672.7 454.5 L673.5 467.2 L675.1 475.0 M642.5 489.8 L643.4 484.6 L640.1 478.5 L675.1 475.0 L677.5 479.5 L713.5 476.8 L716.1 479.9 L715.8 473.6 L723.3 473.2 M727.9 450.8 L719.4 443.3 L710.2 431.0 L700.5 423.6 L692.8 415.0 L689.4 413.9 L691.9 408.7 L701.6 404.1 L717.6 402.5 L717.8 404.1 L719.2 403.0 L721.8 407.1 L736.0 405.1 L752.9 417.1 M681.2 384.4 L687.9 379.5 L696.8 371.0 L700.3 366.6 L695.9 364.6 L691.2 357.7 L690.6 353.8 M700.3 366.6 L704.7 371.4 L710.3 369.9 L714.5 367.4 L720.9 364.0 L723.4 356.3 L726.0 346.1 L731.2 346.3 L734.7 340.8 L739.3 330.7 L746.1 332.8 L746.9 329.8 L740.2 325.7 L737.5 327.8 L733.2 327.8 L730.6 330.4 L726.2 335.5 L724.8 327.4 M706.6 293.9 L712.5 329.5 L768.4 318.8 L770.3 316.6 L772.5 316.6 M768.4 318.8 L773.7 338.2 L781.6 336.7 M776.1 346.1 L780.6 343.8 M746.9 329.8 L750.2 332.7 L755.6 334.9 L756.8 337.9 L754.7 343.2 L758.7 344.0 L766.9 347.2 M714.6 287.9 L715.3 292.1 L765.8 282.2 L770.6 287.7 L775.5 290.6 L772.1 297.1 L772.1 302.8 L775.3 306.2 L779.0 308.6 L775.7 313.5 L772.5 316.6 L771.7 320.1 M775.5 290.6 L785.9 293.9 M788.8 293.2 L789.8 289.7 L786.6 276.6 L786.6 265.1 L783.6 251.9 L781.9 252.3 L780.2 243.0 L777.2 230.6 M786.6 276.6 L805.9 272.2 L808.4 281.8 L808.2 283.2 M805.9 272.2 L810.7 271.0 L812.1 275.0 L814.2 276.1 L815.4 278.3 M786.6 265.1 L795.8 263.1 L808.8 260.3 L811.4 256.8 L813.7 256.2 M795.8 263.1 L794.2 254.2 L795.1 244.1 L794.1 237.9 L798.3 231.8 L797.2 225.4 M813.9 252.8 L809.5 248.6 L805.2 234.9 L800.6 219.8"/>
<path d="M599.4 212.8 L606.5 207.5 L607.1 208.3 L600.0 213.4 Z M751.0 558.1 L749.3 560.7 L750.1 561.1 L751.9 558.7 Z M745.4 563.7 L742.7 565.7 L743.1 566.2 L745.7 564.2 Z M739.9 566.5 L733.0 569.4 L733.3 569.9 L740.0 567.3 Z M820.0 279.5 L823.1 277.5 L824.0 278.4 L820.8 280.1 Z M826.5 278.6 L829.6 277.7 L829.9 278.4 L827.3 279.3 Z M219.5 395.9 L223.8 397.3 L223.5 398.6 L219.3 397.5 Z M215.1 395.9 L218.0 396.3 L217.6 398.2 L215.3 397.6 Z M233.6 409.3 L236.8 412.0 L236.2 412.7 L233.4 410.1 Z M232.0 416.1 L234.2 419.9 L233.4 420.2 L231.6 416.5 Z"/>
<path d="M242.6 472.3 L246.3 474.6 L250.9 475.1 L254.7 476.8 L258.5 476.8 L262.4 477.7 L266.4 478.0 L272.4 478.9 L282.5 529.5 L287.5 529.6 L293.6 534.7 L295.7 531.3 L297.8 528.7 L300.2 530.9 L305.5 534.5 L311.1 540.2 L313.4 542.4 L319.3 543.2 L321.1 547.2 L320.6 550.4 L317.4 550.9 L314.9 547.7 L312.7 551.9 L309.4 547.8 L307.6 546.0 L305.2 546.7 L302.1 543.6 L300.0 540.7 L297.6 538.5 L294.1 536.6 L290.4 534.6 L286.8 532.9 L281.5 531.7 L274.6 532.6 L270.2 530.7 L268.7 529.2 L264.5 528.3 L262.6 530.7 L262.3 534.0 L259.1 535.9 L257.0 537.7 L253.4 539.0 L254.1 534.5 L254.5 530.6 L256.8 528.6 L257.8 527.7 L255.2 528.4 L253.4 530.1 L251.3 532.9 L250.0 535.7 L247.7 538.0 L246.6 540.8 L247.2 543.5 L242.8 546.8 L239.7 551.2 L233.3 556.4 L226.8 559.2 L220.3 560.7 L212.7 561.8 L218.9 558.8 L224.0 556.4 L227.1 555.9 L232.1 551.3 L236.0 547.7 L237.7 541.6 L234.3 540.9 L232.8 543.0 L230.0 541.7 L224.3 540.5 L225.4 536.7 L223.8 533.2 L218.7 530.2 L217.1 526.5 L215.9 522.9 L219.4 517.9 L221.1 515.4 L224.8 515.9 L229.5 514.3 L231.1 508.3 L226.9 508.9 L221.1 507.5 L217.9 505.3 L215.2 500.2 L220.6 497.3 L225.3 499.2 L229.8 499.3 L229.9 494.8 L226.2 492.7 L221.6 486.0 L224.1 483.5 L229.6 480.4 L233.9 477.1 L238.8 474.8 Z M245.7 548.3 L249.5 545.7 L252.5 547.4 L251.4 549.6 L248.7 551.9 L245.7 551.9 Z M212.1 530.1 L214.7 529.5 L215.4 531.9 L213.3 532.6 Z M204.1 509.5 L207.7 509.3 L210.8 512.3 L208.0 513.3 L204.3 510.7 Z M201.7 565.6 L206.4 564.0 L207.1 565.8 L202.4 567.5 Z M197.4 568.3 L201.2 566.4 L201.3 567.5 L197.9 569.0 Z M212.3 560.1 L217.5 560.3 L216.9 561.9 L212.6 562.3 Z M177.0 567.3 L180.3 567.1 L180.3 568.0 L177.2 567.9 Z M169.8 566.0 L172.3 566.3 L171.5 567.4 L169.6 566.7 Z M166.0 564.5 L168.0 565.0 L167.2 566.2 L165.7 565.3 Z M184.0 567.7 L186.0 568.0 L185.4 569.0 Z M191.1 567.4 L192.8 567.2 L192.2 568.5 Z M301.8 536.2 L304.0 536.7 L306.0 540.1 L304.5 542.3 L302.9 539.9 Z M308.7 545.7 L311.9 546.4 L315.2 549.4 L315.3 552.5 L311.6 550.6 Z"/>
<path d="M394.9 547.6 L400.2 549.6 L405.4 551.9 L408.4 555.4 L411.4 559.3 L405.5 563.3 L401.0 565.7 L398.3 568.5 L395.0 565.7 L395.0 560.2 L392.7 555.5 L395.7 551.5 Z M383.0 536.6 L386.0 535.5 L389.7 536.6 L393.4 539.3 L391.9 541.6 L387.5 542.4 L386.0 539.3 L383.0 538.2 Z M374.1 533.5 L378.6 532.7 L382.7 533.2 L382.3 535.0 L377.8 534.6 L374.1 534.6 Z M377.8 537.1 L380.8 537.4 L381.2 539.8 L379.0 540.1 Z M359.6 526.8 L362.3 526.4 L364.5 524.7 L368.9 531.1 L366.7 531.9 L362.2 531.1 L360.3 528.7 Z M337.5 518.8 L340.1 516.3 L344.1 516.8 L344.5 520.8 L342.3 522.0 L337.9 520.4 Z M330.5 521.4 L332.7 519.9 L333.4 521.4 L331.2 523.3 Z M383.0 542.9 L385.2 542.1 L385.2 543.7 Z"/>
<path d="M817.2 558.6 L819.5 556.6 L826.0 556.2 L833.0 556.6 L839.5 557.2 L842.6 558.8 L841.2 561.2 L838.5 563.4 L833.0 564.6 L826.0 565.0 L819.5 565.0 L817.6 563.0 L818.2 560.6 Z M845.2 558.6 L847.2 558.2 L847.0 559.2 Z M844.0 562.6 L846.5 561.8 L846.3 562.8 Z"/>
</g>
<g fill-opacity="0.80">
<circle cx="419.5" cy="337.5" r="18.5" fill="#ee6f6f"/>
<circle cx="324.0" cy="433.6" r="10.7" fill="#f5b32b"/>
<circle cx="317.9" cy="422.9" r="8.9" fill="#f5b32b"/>
<circle cx="752.9" cy="539.2" r="7.7" fill="#ee6f6f"/>
<circle cx="644.2" cy="388.8" r="6.8" fill="#ee6f6f"/>
<circle cx="551.2" cy="353.5" r="6.7" fill="#ee6f6f"/>
<circle cx="644.2" cy="327.3" r="5.6" fill="#c02cd8"/>
<circle cx="669.6" cy="423.2" r="4.5" fill="#f5b32b"/>
<circle cx="231.0" cy="356.0" r="3.7" fill="#f5b32b"/>
<circle cx="514.0" cy="284.5" r="2.4" fill="#ee6f6f"/>
<circle cx="781.5" cy="236.0" r="2.2" fill="#ee6f6f"/>
<circle cx="210.1" cy="327.4" r="34.0" fill="#c02cd8"/>
<circle cx="228.4" cy="202.2" r="13.3" fill="#ee6f6f"/>
<circle cx="534.9" cy="502.6" r="29.5" fill="#c02cd8"/>
<circle cx="506.3" cy="459.8" r="29.2" fill="#c02cd8"/>
<circle cx="234.5" cy="210.4" r="10.0" fill="#ee6f6f"/>
<circle cx="519.5" cy="440.4" r="27.4" fill="#c02cd8"/>
<circle cx="252.4" cy="184.4" r="26.0" fill="#c02cd8"/>
<circle cx="344.6" cy="317.4" r="25.0" fill="#ee6f6f"/>
<circle cx="513.3" cy="450.1" r="23.0" fill="#c02cd8"/>
<circle cx="687.6" cy="485.5" r="10.4" fill="#c02cd8"/>
<circle cx="712.2" cy="482.7" r="22.3" fill="#5b34d6"/>
<circle cx="425.7" cy="329.0" r="21.8" fill="#5b34d6"/>
<circle cx="467.4" cy="372.1" r="21.8" fill="#5b34d6"/>
<circle cx="228.6" cy="338.9" r="18.7" fill="#ee6f6f"/>
<circle cx="524.7" cy="398.5" r="16.8" fill="#c02cd8"/>
<circle cx="529.8" cy="383.8" r="18.0" fill="#5b34d6"/>
<circle cx="640.0" cy="396.7" r="15.8" fill="#c02cd8"/>
<circle cx="815.7" cy="265.8" r="17.5" fill="#c02cd8"/>
<circle cx="570.2" cy="351.6" r="17.4" fill="#5b34d6"/>
<circle cx="637.2" cy="384.3" r="17.2" fill="#5b34d6"/>
<circle cx="787.2" cy="302.8" r="11.5" fill="#5b34d6"/>
<circle cx="779.7" cy="314.4" r="16.7" fill="#c02cd8"/>
<circle cx="775.8" cy="332.3" r="17.6" fill="#5b34d6"/>
<circle cx="300.4" cy="426.7" r="16.4" fill="#ee6f6f"/>
<circle cx="677.0" cy="439.0" r="16.4" fill="#c02cd8"/>
<circle cx="339.0" cy="312.6" r="16.3" fill="#c02cd8"/>
<circle cx="526.6" cy="320.2" r="15.6" fill="#c02cd8"/>
<circle cx="806.1" cy="257.3" r="15.5" fill="#5b34d6"/>
<circle cx="254.0" cy="410.7" r="15.4" fill="#ee6f6f"/>
<circle cx="258.5" cy="170.1" r="15.3" fill="#ee6f6f"/>
<circle cx="644.2" cy="303.0" r="11.2" fill="#ee6f6f"/>
<circle cx="235.9" cy="172.2" r="16.5" fill="#c02cd8"/>
<circle cx="645.3" cy="285.4" r="15.2" fill="#c02cd8"/>
<circle cx="537.2" cy="491.6" r="4.2" fill="#f5b32b"/>
<circle cx="227.9" cy="222.4" r="15.0" fill="#c02cd8"/>
<circle cx="540.7" cy="504.9" r="15.0" fill="#c02cd8"/>
<circle cx="389.7" cy="240.4" r="14.6" fill="#5b34d6"/>
<circle cx="699.0" cy="414.5" r="14.0" fill="#c02cd8"/>
<circle cx="728.4" cy="535.1" r="13.8" fill="#c02cd8"/>
<circle cx="492.0" cy="507.4" r="13.6" fill="#ee6f6f"/>
<circle cx="221.2" cy="321.1" r="12.9" fill="#ee6f6f"/>
<circle cx="234.1" cy="371.0" r="12.9" fill="#c02cd8"/>
<circle cx="346.9" cy="237.1" r="12.9" fill="#5b34d6"/>
<circle cx="735.7" cy="433.3" r="12.8" fill="#c02cd8"/>
<circle cx="340.3" cy="254.6" r="12.5" fill="#c02cd8"/>
<circle cx="799.9" cy="282.8" r="12.4" fill="#c02cd8"/>
<circle cx="256.0" cy="248.0" r="12.1" fill="#c02cd8"/>
<circle cx="648.0" cy="292.5" r="12.0" fill="#c02cd8"/>
<circle cx="299.4" cy="192.1" r="11.9" fill="#c02cd8"/>
<circle cx="631.2" cy="314.3" r="11.9" fill="#c02cd8"/>
<circle cx="421.1" cy="355.0" r="11.8" fill="#ee6f6f"/>
<circle cx="592.5" cy="490.7" r="11.8" fill="#5b34d6"/>
<circle cx="392.1" cy="463.3" r="11.6" fill="#c02cd8"/>
<circle cx="231.3" cy="510.1" r="11.5" fill="#5b34d6"/>
<circle cx="508.5" cy="455.4" r="11.5" fill="#ee6f6f"/>
<circle cx="508.0" cy="444.8" r="16.0" fill="#c02cd8"/>
<circle cx="665.7" cy="309.8" r="11.3" fill="#5b34d6"/>
<circle cx="551.8" cy="401.8" r="11.0" fill="#c02cd8"/>
<circle cx="615.5" cy="305.0" r="11.0" fill="#ee6f6f"/>
<circle cx="671.3" cy="295.0" r="10.7" fill="#ee6f6f"/>
<circle cx="645.3" cy="337.4" r="10.7" fill="#ee6f6f"/>
<circle cx="683.7" cy="416.5" r="10.7" fill="#c02cd8"/>
<circle cx="653.8" cy="362.3" r="10.2" fill="#c02cd8"/>
<circle cx="747.8" cy="541.2" r="10.2" fill="#c02cd8"/>
<circle cx="568.9" cy="277.1" r="10.1" fill="#c02cd8"/>
<circle cx="542.7" cy="356.5" r="10.1" fill="#5b34d6"/>
<circle cx="720.4" cy="454.5" r="10.1" fill="#5b34d6"/>
<circle cx="301.0" cy="257.1" r="10.0" fill="#ee6f6f"/>
<circle cx="630.4" cy="365.5" r="10.0" fill="#5b34d6"/>
<circle cx="739.2" cy="503.3" r="9.8" fill="#c02cd8"/>
<circle cx="237.4" cy="394.3" r="9.3" fill="#ee6f6f"/>
<circle cx="658.9" cy="268.3" r="9.3" fill="#c02cd8"/>
<circle cx="716.5" cy="515.0" r="9.3" fill="#ee6f6f"/>
<circle cx="202.2" cy="336.4" r="9.2" fill="#c02cd8"/>
<circle cx="603.9" cy="414.1" r="5.7" fill="#ee6f6f"/>
<circle cx="606.7" cy="424.3" r="9.0" fill="#5b34d6"/>
<circle cx="644.5" cy="262.3" r="9.0" fill="#c02cd8"/>
<circle cx="708.0" cy="409.7" r="9.0" fill="#c02cd8"/>
<circle cx="741.6" cy="523.9" r="9.0" fill="#c02cd8"/>
<circle cx="219.0" cy="240.9" r="8.9" fill="#ee6f6f"/>
<circle cx="788.2" cy="238.2" r="8.8" fill="#5b34d6"/>
<circle cx="267.6" cy="386.9" r="8.7" fill="#ee6f6f"/>
<circle cx="501.4" cy="415.7" r="8.6" fill="#ee6f6f"/>
<circle cx="522.5" cy="488.1" r="8.5" fill="#c02cd8"/>
<circle cx="622.4" cy="426.4" r="8.5" fill="#5b34d6"/>
<circle cx="714.8" cy="398.4" r="8.5" fill="#ee6f6f"/>
<circle cx="243.8" cy="205.0" r="8.3" fill="#ee6f6f"/>
<circle cx="720.5" cy="365.9" r="8.2" fill="#5b34d6"/>
<circle cx="521.4" cy="315.1" r="8.0" fill="#c02cd8"/>
<circle cx="518.4" cy="326.7" r="8.0" fill="#c02cd8"/>
<circle cx="531.9" cy="445.7" r="8.0" fill="#c02cd8"/>
<circle cx="639.0" cy="280.0" r="8.0" fill="#c02cd8"/>
<circle cx="518.0" cy="230.7" r="7.9" fill="#5b34d6"/>
<circle cx="507.9" cy="412.9" r="7.9" fill="#ee6f6f"/>
<circle cx="505.0" cy="481.4" r="7.9" fill="#ee6f6f"/>
<circle cx="579.0" cy="496.3" r="7.9" fill="#c02cd8"/>
<circle cx="656.9" cy="424.6" r="7.9" fill="#c02cd8"/>
<circle cx="705.8" cy="308.1" r="7.9" fill="#5b34d6"/>
<circle cx="730.9" cy="378.6" r="7.9" fill="#c02cd8"/>
<circle cx="768.8" cy="302.9" r="7.8" fill="#c02cd8"/>
<circle cx="325.4" cy="354.3" r="7.7" fill="#c02cd8"/>
<circle cx="260.9" cy="198.9" r="7.6" fill="#c02cd8"/>
<circle cx="620.5" cy="334.3" r="7.6" fill="#c02cd8"/>
<circle cx="745.1" cy="400.9" r="7.6" fill="#ee6f6f"/>
<circle cx="729.3" cy="502.3" r="7.6" fill="#ee6f6f"/>
<circle cx="436.0" cy="473.1" r="7.5" fill="#ee6f6f"/>
<circle cx="679.8" cy="284.3" r="7.5" fill="#ee6f6f"/>
<circle cx="750.4" cy="310.7" r="7.5" fill="#c02cd8"/>
<circle cx="446.9" cy="269.3" r="7.4" fill="#c02cd8"/>
<circle cx="561.3" cy="414.7" r="7.4" fill="#5b34d6"/>
<circle cx="568.8" cy="323.9" r="7.3" fill="#5b34d6"/>
<circle cx="588.0" cy="354.1" r="7.3" fill="#c02cd8"/>
<circle cx="496.7" cy="555.9" r="7.3" fill="#ee6f6f"/>
<circle cx="673.0" cy="287.7" r="7.3" fill="#ee6f6f"/>
<circle cx="621.1" cy="291.6" r="7.3" fill="#5b34d6"/>
<circle cx="623.9" cy="305.8" r="7.3" fill="#ee6f6f"/>
<circle cx="697.7" cy="313.6" r="7.3" fill="#5b34d6"/>
<circle cx="645.0" cy="331.2" r="7.3" fill="#ee6f6f"/>
<circle cx="260.0" cy="304.6" r="7.2" fill="#ee6f6f"/>
<circle cx="274.0" cy="414.3" r="7.1" fill="#ee6f6f"/>
<circle cx="330.0" cy="297.9" r="7.1" fill="#c02cd8"/>
<circle cx="461.0" cy="315.6" r="7.1" fill="#5b34d6"/>
<circle cx="511.4" cy="233.9" r="7.1" fill="#5b34d6"/>
<circle cx="501.4" cy="495.0" r="7.1" fill="#f5b32b"/>
<circle cx="667.1" cy="331.6" r="7.1" fill="#c02cd8"/>
<circle cx="661.5" cy="393.5" r="7.1" fill="#5b34d6"/>
<circle cx="712.0" cy="388.8" r="7.1" fill="#ee6f6f"/>
<circle cx="698.8" cy="385.5" r="10.4" fill="#c02cd8"/>
<circle cx="536.7" cy="287.9" r="6.9" fill="#5b34d6"/>
<circle cx="468.0" cy="507.0" r="6.9" fill="#5b34d6"/>
<circle cx="327.9" cy="448.6" r="6.8" fill="#f5b32b"/>
<circle cx="623.9" cy="300.0" r="6.8" fill="#5b34d6"/>
<circle cx="548.4" cy="260.2" r="6.7" fill="#f5b32b"/>
<circle cx="616.3" cy="264.0" r="6.7" fill="#5b34d6"/>
<circle cx="731.2" cy="293.4" r="6.5" fill="#5b34d6"/>
<circle cx="231.1" cy="392.9" r="6.4" fill="#ee6f6f"/>
<circle cx="232.6" cy="400.4" r="6.4" fill="#ee6f6f"/>
<circle cx="528.2" cy="298.3" r="6.4" fill="#5b34d6"/>
<circle cx="536.5" cy="377.3" r="6.4" fill="#5b34d6"/>
<circle cx="388.4" cy="409.7" r="6.3" fill="#f5b32b"/>
<circle cx="709.2" cy="431.7" r="6.3" fill="#5b34d6"/>
<circle cx="669.1" cy="352.7" r="6.2" fill="#ee6f6f"/>
<circle cx="713.2" cy="304.1" r="6.2" fill="#5b34d6"/>
<circle cx="548.2" cy="387.8" r="6.1" fill="#c02cd8"/>
<circle cx="245.0" cy="409.3" r="6.0" fill="#ee6f6f"/>
<circle cx="529.7" cy="259.0" r="5.9" fill="#5b34d6"/>
<circle cx="517.4" cy="341.5" r="5.9" fill="#5b34d6"/>
<circle cx="643.1" cy="310.3" r="5.9" fill="#ee6f6f"/>
<circle cx="784.0" cy="281.0" r="5.9" fill="#c02cd8"/>
<circle cx="730.9" cy="385.4" r="5.9" fill="#c02cd8"/>
<circle cx="234.9" cy="187.2" r="5.8" fill="#ee6f6f"/>
<circle cx="220.9" cy="305.2" r="5.8" fill="#ee6f6f"/>
<circle cx="509.3" cy="376.5" r="5.8" fill="#ee6f6f"/>
<circle cx="518.1" cy="283.3" r="5.6" fill="#c02cd8"/>
<circle cx="499.8" cy="513.1" r="5.6" fill="#ee6f6f"/>
<circle cx="596.5" cy="357.1" r="5.5" fill="#ee6f6f"/>
<circle cx="671.9" cy="388.2" r="5.4" fill="#ee6f6f"/>
<circle cx="730.3" cy="300.2" r="5.4" fill="#5b34d6"/>
<circle cx="760.6" cy="326.7" r="5.4" fill="#ee6f6f"/>
<circle cx="606.5" cy="270.4" r="5.3" fill="#ee6f6f"/>
<circle cx="559.4" cy="259.8" r="5.2" fill="#ee6f6f"/>
<circle cx="582.4" cy="353.5" r="5.2" fill="#5b34d6"/>
<circle cx="603.9" cy="379.4" r="5.2" fill="#5b34d6"/>
<circle cx="580.5" cy="419.7" r="5.2" fill="#ee6f6f"/>
<circle cx="623.9" cy="306.5" r="5.2" fill="#f5b32b"/>
<circle cx="710.2" cy="493.4" r="5.2" fill="#ee6f6f"/>
<circle cx="683.2" cy="312.9" r="5.1" fill="#c02cd8"/>
<circle cx="666.8" cy="343.1" r="5.1" fill="#ee6f6f"/>
<circle cx="756.6" cy="319.4" r="5.1" fill="#ee6f6f"/>
<circle cx="367.6" cy="537.1" r="5.0" fill="#f5b32b"/>
<circle cx="552.2" cy="496.0" r="5.0" fill="#c02cd8"/>
<circle cx="722.0" cy="419.9" r="5.0" fill="#c02cd8"/>
<circle cx="668.1" cy="483.4" r="5.0" fill="#c02cd8"/>
<circle cx="710.0" cy="517.4" r="5.0" fill="#ee6f6f"/>
<circle cx="727.8" cy="519.0" r="5.0" fill="#ee6f6f"/>
<circle cx="577.0" cy="307.4" r="4.9" fill="#c02cd8"/>
<circle cx="217.5" cy="257.4" r="4.8" fill="#ee6f6f"/>
<circle cx="201.6" cy="306.7" r="4.8" fill="#f5b32b"/>
<circle cx="616.8" cy="362.8" r="4.8" fill="#c02cd8"/>
<circle cx="279.2" cy="208.3" r="4.6" fill="#f5b32b"/>
<circle cx="257.1" cy="421.1" r="4.6" fill="#ee6f6f"/>
<circle cx="337.9" cy="304.0" r="4.6" fill="#ee6f6f"/>
<circle cx="686.2" cy="336.5" r="4.6" fill="#c02cd8"/>
<circle cx="569.3" cy="450.7" r="4.5" fill="#c02cd8"/>
<circle cx="694.5" cy="304.0" r="4.5" fill="#f5b32b"/>
<circle cx="775.5" cy="311.6" r="4.5" fill="#f5b32b"/>
<circle cx="722.2" cy="271.1" r="4.5" fill="#c02cd8"/>
<circle cx="206.3" cy="330.5" r="4.4" fill="#ee6f6f"/>
<circle cx="318.7" cy="275.0" r="4.4" fill="#ee6f6f"/>
<circle cx="529.4" cy="354.9" r="4.4" fill="#c02cd8"/>
<circle cx="511.4" cy="366.0" r="4.4" fill="#c02cd8"/>
<circle cx="772.4" cy="364.0" r="4.4" fill="#c02cd8"/>
<circle cx="245.0" cy="401.4" r="4.3" fill="#f5b32b"/>
<circle cx="542.0" cy="353.7" r="4.3" fill="#5b34d6"/>
<circle cx="726.3" cy="493.7" r="4.3" fill="#ee6f6f"/>
<circle cx="645.1" cy="339.7" r="4.2" fill="#ee6f6f"/>
<circle cx="657.8" cy="363.4" r="4.2" fill="#c02cd8"/>
<circle cx="650.0" cy="482.6" r="4.2" fill="#f5b32b"/>
<circle cx="501.6" cy="300.9" r="4.1" fill="#c02cd8"/>
<circle cx="447.1" cy="392.6" r="4.1" fill="#ee6f6f"/>
<circle cx="497.8" cy="538.4" r="4.1" fill="#c02cd8"/>
<circle cx="607.2" cy="300.5" r="4.1" fill="#c02cd8"/>
<circle cx="695.4" cy="368.4" r="4.1" fill="#5b34d6"/>
<circle cx="736.0" cy="272.6" r="4.1" fill="#c02cd8"/>
<circle cx="554.7" cy="313.9" r="4.0" fill="#ee6f6f"/>
<circle cx="602.9" cy="288.2" r="4.0" fill="#ee6f6f"/>
<circle cx="606.9" cy="300.7" r="4.0" fill="#c02cd8"/>
<circle cx="510.8" cy="370.4" r="4.0" fill="#5b34d6"/>
<circle cx="612.6" cy="291.6" r="4.0" fill="#ee6f6f"/>
<circle cx="594.7" cy="304.6" r="4.0" fill="#c02cd8"/>
<circle cx="245.7" cy="405.7" r="3.9" fill="#f5b32b"/>
<circle cx="244.1" cy="186.6" r="3.8" fill="#f5b32b"/>
<circle cx="608.7" cy="219.9" r="3.8" fill="#c02cd8"/>
<circle cx="556.9" cy="289.0" r="3.8" fill="#c02cd8"/>
<circle cx="594.9" cy="304.8" r="3.8" fill="#c02cd8"/>
<circle cx="682.4" cy="327.0" r="3.8" fill="#f5b32b"/>
<circle cx="659.1" cy="345.9" r="3.8" fill="#5b34d6"/>
<circle cx="777.3" cy="346.1" r="3.8" fill="#ee6f6f"/>
<circle cx="209.3" cy="337.9" r="3.7" fill="#f5b32b"/>
<circle cx="587.2" cy="226.5" r="3.7" fill="#c02cd8"/>
<circle cx="549.6" cy="370.6" r="3.7" fill="#c02cd8"/>
<circle cx="511.0" cy="474.3" r="3.7" fill="#c02cd8"/>
<circle cx="671.5" cy="361.7" r="3.7" fill="#ee6f6f"/>
<circle cx="702.4" cy="299.0" r="3.7" fill="#f5b32b"/>
<circle cx="767.3" cy="252.4" r="3.7" fill="#c02cd8"/>
<circle cx="721.4" cy="480.1" r="3.7" fill="#f5b32b"/>
<circle cx="721.2" cy="528.4" r="3.7" fill="#f5b32b"/>
<circle cx="249.7" cy="365.8" r="3.6" fill="#f5b32b"/>
<circle cx="281.5" cy="352.5" r="3.6" fill="#f5b32b"/>
<circle cx="330.7" cy="332.1" r="3.6" fill="#f5b32b"/>
<circle cx="615.1" cy="280.2" r="3.6" fill="#f5b32b"/>
<circle cx="794.6" cy="295.0" r="3.6" fill="#f5b32b"/>
<circle cx="652.8" cy="323.0" r="3.5" fill="#ee6f6f"/>
<circle cx="740.4" cy="416.1" r="3.5" fill="#f5b32b"/>
<circle cx="417.4" cy="312.1" r="3.4" fill="#ee6f6f"/>
<circle cx="541.9" cy="247.1" r="3.4" fill="#ee6f6f"/>
<circle cx="562.6" cy="221.6" r="3.4" fill="#ee6f6f"/>
<circle cx="560.8" cy="371.8" r="3.4" fill="#ee6f6f"/>
<circle cx="618.2" cy="294.5" r="3.4" fill="#f5b32b"/>
<circle cx="785.5" cy="249.4" r="3.4" fill="#5b34d6"/>
<circle cx="801.5" cy="247.5" r="3.4" fill="#ee6f6f"/>
<circle cx="812.3" cy="276.0" r="3.4" fill="#ee6f6f"/>
<circle cx="738.8" cy="304.2" r="3.3" fill="#c02cd8"/>
<circle cx="299.7" cy="259.6" r="3.2" fill="#ee6f6f"/>
<circle cx="549.0" cy="275.7" r="3.2" fill="#ee6f6f"/>
<circle cx="556.6" cy="298.2" r="3.2" fill="#c02cd8"/>
<circle cx="587.1" cy="312.3" r="3.2" fill="#c02cd8"/>
<circle cx="606.3" cy="457.3" r="3.2" fill="#c02cd8"/>
<circle cx="608.7" cy="342.7" r="3.1" fill="#c02cd8"/>
<circle cx="666.2" cy="317.7" r="3.1" fill="#ee6f6f"/>
<circle cx="648.7" cy="358.9" r="3.1" fill="#ee6f6f"/>
<circle cx="646.1" cy="429.3" r="3.1" fill="#ee6f6f"/>
<circle cx="694.1" cy="399.3" r="3.1" fill="#f5b32b"/>
<circle cx="736.6" cy="366.9" r="3.1" fill="#ee6f6f"/>
<circle cx="809.7" cy="230.3" r="3.1" fill="#c02cd8"/>
<circle cx="725.9" cy="400.3" r="3.1" fill="#ee6f6f"/>
<circle cx="484.7" cy="349.7" r="3.0" fill="#c02cd8"/>
<circle cx="745.3" cy="535.5" r="3.0" fill="#f5b32b"/>
<circle cx="314.9" cy="405.4" r="2.9" fill="#ee6f6f"/>
<circle cx="478.1" cy="459.0" r="2.9" fill="#ee6f6f"/>
<circle cx="605.8" cy="487.5" r="2.9" fill="#ee6f6f"/>
<circle cx="666.9" cy="470.4" r="2.9" fill="#c02cd8"/>
<circle cx="316.4" cy="545.7" r="2.8" fill="#5b34d6"/>
<circle cx="560.2" cy="360.2" r="2.8" fill="#c02cd8"/>
<circle cx="621.5" cy="486.5" r="2.8" fill="#ee6f6f"/>
<circle cx="651.5" cy="348.5" r="2.8" fill="#c02cd8"/>
<circle cx="618.8" cy="386.0" r="2.8" fill="#ee6f6f"/>
<circle cx="748.8" cy="335.8" r="2.8" fill="#f5b32b"/>
<circle cx="753.1" cy="342.6" r="2.8" fill="#c02cd8"/>
<circle cx="786.7" cy="299.0" r="2.8" fill="#f5b32b"/>
<circle cx="820.9" cy="191.4" r="2.8" fill="#5b34d6"/>
<circle cx="235.4" cy="378.3" r="2.7" fill="#f5b32b"/>
<circle cx="489.7" cy="318.1" r="2.7" fill="#ee6f6f"/>
<circle cx="662.3" cy="299.0" r="2.7" fill="#f5b32b"/>
<circle cx="815.4" cy="273.7" r="2.7" fill="#f5b32b"/>
<circle cx="720.3" cy="401.2" r="2.7" fill="#f5b32b"/>
<circle cx="766.8" cy="395.6" r="2.7" fill="#f5b32b"/>
<circle cx="201.9" cy="323.6" r="2.6" fill="#ee6f6f"/>
<circle cx="447.1" cy="206.6" r="2.6" fill="#5b34d6"/>
<circle cx="229.9" cy="528.7" r="2.6" fill="#f5b32b"/>
<circle cx="562.2" cy="372.8" r="2.6" fill="#f5b32b"/>
<circle cx="596.4" cy="416.5" r="2.6" fill="#5b34d6"/>
<circle cx="545.6" cy="459.7" r="2.6" fill="#f5b32b"/>
<circle cx="680.9" cy="301.8" r="2.6" fill="#c02cd8"/>
<circle cx="407.4" cy="283.4" r="2.5" fill="#ee6f6f"/>
<circle cx="368.1" cy="298.9" r="2.5" fill="#ee6f6f"/>
<circle cx="637.5" cy="420.1" r="2.5" fill="#f5b32b"/>
<circle cx="662.8" cy="407.2" r="2.5" fill="#f5b32b"/>
<circle cx="722.5" cy="305.2" r="2.5" fill="#5b34d6"/>
<circle cx="718.6" cy="330.4" r="2.5" fill="#c02cd8"/>
<circle cx="747.7" cy="356.5" r="2.5" fill="#c02cd8"/>
<circle cx="755.7" cy="408.2" r="2.5" fill="#f5b32b"/>
<circle cx="274.0" cy="180.0" r="2.4" fill="#f5b32b"/>
<circle cx="308.5" cy="194.0" r="2.4" fill="#c02cd8"/>
<circle cx="364.3" cy="202.9" r="2.4" fill="#ee6f6f"/>
<circle cx="504.4" cy="343.1" r="2.4" fill="#5b34d6"/>
<circle cx="568.9" cy="228.4" r="2.4" fill="#ee6f6f"/>
<circle cx="599.1" cy="504.4" r="2.4" fill="#ee6f6f"/>
<circle cx="666.8" cy="416.5" r="2.4" fill="#f5b32b"/>
<circle cx="743.3" cy="290.4" r="2.4" fill="#c02cd8"/>
<circle cx="710.3" cy="324.2" r="2.4" fill="#c02cd8"/>
<circle cx="769.0" cy="308.3" r="2.4" fill="#ee6f6f"/>
<circle cx="788.8" cy="270.3" r="2.4" fill="#ee6f6f"/>
<circle cx="673.0" cy="303.6" r="2.3" fill="#ee6f6f"/>
<circle cx="749.1" cy="325.9" r="2.3" fill="#f5b32b"/>
<circle cx="741.8" cy="335.2" r="2.3" fill="#ee6f6f"/>
<circle cx="747.0" cy="384.8" r="2.3" fill="#f5b32b"/>
<circle cx="310.6" cy="194.3" r="2.2" fill="#f5b32b"/>
<circle cx="609.0" cy="446.7" r="2.2" fill="#ee6f6f"/>
<circle cx="716.2" cy="316.2" r="2.2" fill="#f5b32b"/>
<circle cx="715.5" cy="501.3" r="2.2" fill="#f5b32b"/>
<circle cx="673.3" cy="452.0" r="2.2" fill="#c02cd8"/>
<circle cx="231.6" cy="313.8" r="2.1" fill="#ee6f6f"/>
<circle cx="291.4" cy="322.9" r="2.1" fill="#5b34d6"/>
<circle cx="556.9" cy="259.8" r="2.1" fill="#efe04c"/>
<circle cx="756.3" cy="345.9" r="2.1" fill="#ee6f6f"/>
<circle cx="330.7" cy="210.3" r="2.0" fill="#f5b32b"/>
<circle cx="433.0" cy="371.6" r="2.0" fill="#f5b32b"/>
<circle cx="600.6" cy="279.6" r="2.0" fill="#ee6f6f"/>
<circle cx="599.8" cy="351.5" r="2.0" fill="#ee6f6f"/>
<circle cx="593.2" cy="401.2" r="2.0" fill="#ee6f6f"/>
<circle cx="528.0" cy="401.5" r="2.0" fill="#f5b32b"/>
<circle cx="492.1" cy="457.4" r="2.0" fill="#ee6f6f"/>
<circle cx="527.9" cy="495.4" r="2.0" fill="#f5b32b"/>
<circle cx="513.1" cy="516.1" r="2.0" fill="#ee6f6f"/>
<circle cx="654.1" cy="314.5" r="2.0" fill="#f5b32b"/>
<circle cx="682.9" cy="384.6" r="2.0" fill="#f5b32b"/>
<circle cx="778.4" cy="285.9" r="2.0" fill="#ee6f6f"/>
<circle cx="812.8" cy="250.0" r="2.0" fill="#5b34d6"/>
<circle cx="715.4" cy="417.8" r="2.0" fill="#ee6f6f"/>
<circle cx="283.6" cy="372.9" r="1.9" fill="#efe04c"/>
<circle cx="374.9" cy="384.4" r="1.9" fill="#ee6f6f"/>
<circle cx="608.2" cy="392.7" r="1.9" fill="#f5b32b"/>
<circle cx="668.7" cy="335.4" r="1.9" fill="#f5b32b"/>
<circle cx="713.9" cy="319.1" r="1.9" fill="#ee6f6f"/>
<circle cx="742.1" cy="328.6" r="1.9" fill="#ee6f6f"/>
<circle cx="595.5" cy="259.1" r="1.8" fill="#f5b32b"/>
<circle cx="532.2" cy="316.7" r="1.8" fill="#c02cd8"/>
<circle cx="609.6" cy="495.6" r="1.8" fill="#ee6f6f"/>
<circle cx="802.7" cy="222.7" r="1.8" fill="#f5b32b"/>
<circle cx="693.1" cy="446.5" r="1.8" fill="#f5b32b"/>
<circle cx="723.8" cy="275.2" r="1.8" fill="#f5b32b"/>
<circle cx="210.2" cy="356.6" r="1.7" fill="#c02cd8"/>
<circle cx="542.6" cy="300.2" r="1.7" fill="#5b34d6"/>
<circle cx="588.1" cy="411.3" r="1.7" fill="#f5b32b"/>
<circle cx="635.7" cy="477.7" r="1.7" fill="#f5b32b"/>
<circle cx="670.3" cy="370.7" r="1.7" fill="#ee6f6f"/>
<circle cx="637.2" cy="409.3" r="1.7" fill="#ee6f6f"/>
<circle cx="753.6" cy="333.5" r="1.7" fill="#f5b32b"/>
<circle cx="757.5" cy="322.7" r="1.7" fill="#f5b32b"/>
<circle cx="753.3" cy="257.9" r="1.7" fill="#f5b32b"/>
<circle cx="763.2" cy="382.6" r="1.7" fill="#f5b32b"/>
<circle cx="728.6" cy="267.7" r="1.7" fill="#ee6f6f"/>
<circle cx="736.1" cy="269.2" r="1.7" fill="#f5b32b"/>
<circle cx="594.2" cy="388.5" r="1.6" fill="#c02cd8"/>
<circle cx="555.3" cy="441.0" r="1.6" fill="#ee6f6f"/>
<circle cx="506.3" cy="535.3" r="1.6" fill="#f5b32b"/>
<circle cx="640.7" cy="350.5" r="1.6" fill="#f5b32b"/>
<circle cx="723.3" cy="317.3" r="1.6" fill="#ee6f6f"/>
<circle cx="758.2" cy="366.0" r="1.6" fill="#f5b32b"/>
<circle cx="772.0" cy="257.9" r="1.6" fill="#f5b32b"/>
<circle cx="763.2" cy="275.6" r="1.6" fill="#c02cd8"/>
<circle cx="217.3" cy="374.2" r="1.5" fill="#efe04c"/>
<circle cx="543.6" cy="213.3" r="1.5" fill="#ee6f6f"/>
<circle cx="585.1" cy="275.6" r="1.5" fill="#f5b32b"/>
<circle cx="598.9" cy="290.6" r="1.5" fill="#f5b32b"/>
<circle cx="611.4" cy="328.3" r="1.5" fill="#f5b32b"/>
<circle cx="603.7" cy="460.3" r="1.5" fill="#ee6f6f"/>
<circle cx="787.0" cy="295.7" r="1.5" fill="#f5b32b"/>
<circle cx="722.5" cy="383.7" r="1.5" fill="#f5b32b"/>
<circle cx="689.8" cy="443.5" r="1.5" fill="#c02cd8"/>
<circle cx="712.1" cy="464.9" r="1.5" fill="#5b34d6"/>
<circle cx="426.7" cy="404.9" r="1.4" fill="#5b34d6"/>
<circle cx="368.1" cy="451.1" r="1.4" fill="#f5b32b"/>
<circle cx="420.1" cy="449.4" r="1.4" fill="#f5b32b"/>
<circle cx="695.8" cy="345.6" r="1.4" fill="#c02cd8"/>
<circle cx="679.2" cy="394.4" r="1.4" fill="#f5b32b"/>
<circle cx="759.6" cy="334.4" r="1.4" fill="#f5b32b"/>
<circle cx="778.6" cy="265.5" r="1.4" fill="#ee6f6f"/>
<circle cx="781.0" cy="267.3" r="1.4" fill="#ee6f6f"/>
<circle cx="725.2" cy="415.0" r="1.4" fill="#f5b32b"/>
<circle cx="730.3" cy="510.8" r="1.4" fill="#f5b32b"/>
<circle cx="505.1" cy="356.0" r="1.3" fill="#f5b32b"/>
<circle cx="450.0" cy="440.3" r="1.3" fill="#f5b32b"/>
<circle cx="567.7" cy="296.7" r="1.3" fill="#f5b32b"/>
<circle cx="521.5" cy="349.6" r="1.3" fill="#ee6f6f"/>
<circle cx="551.5" cy="414.9" r="1.3" fill="#ee6f6f"/>
<circle cx="632.4" cy="484.4" r="1.3" fill="#ee6f6f"/>
<circle cx="774.1" cy="307.0" r="1.3" fill="#f5b32b"/>
<circle cx="778.6" cy="303.0" r="1.3" fill="#f5b32b"/>
<circle cx="545.7" cy="222.0" r="1.2" fill="#f5b32b"/>
<circle cx="601.4" cy="302.9" r="1.2" fill="#f5b32b"/>
<circle cx="672.8" cy="277.7" r="1.2" fill="#f5b32b"/>
<circle cx="638.6" cy="374.7" r="1.2" fill="#ee6f6f"/>
<circle cx="730.3" cy="328.7" r="1.2" fill="#c02cd8"/>
<circle cx="807.8" cy="246.4" r="1.2" fill="#f5b32b"/>
<circle cx="560.4" cy="383.8" r="1.1" fill="#f5b32b"/>
<circle cx="675.8" cy="291.6" r="1.1" fill="#f5b32b"/>
<circle cx="621.8" cy="351.5" r="1.1" fill="#ee6f6f"/>
<circle cx="668.7" cy="362.6" r="1.1" fill="#f5b32b"/>
<circle cx="663.2" cy="411.4" r="1.1" fill="#f5b32b"/>
<circle cx="737.0" cy="312.2" r="1.1" fill="#f5b32b"/>
<circle cx="728.8" cy="353.9" r="1.1" fill="#f5b32b"/>
<circle cx="719.9" cy="406.9" r="1.1" fill="#f5b32b"/>
<circle cx="277.1" cy="228.5" r="1.0" fill="#f5b32b"/>
<circle cx="250.0" cy="422.9" r="1.0" fill="#f5b32b"/>
<circle cx="331.0" cy="188.1" r="1.0" fill="#f5b32b"/>
<circle cx="296.7" cy="299.6" r="1.0" fill="#ee6f6f"/>
<circle cx="372.6" cy="346.9" r="1.0" fill="#f5b32b"/>
<circle cx="535.7" cy="191.4" r="1.0" fill="#c02cd8"/>
<circle cx="401.1" cy="440.7" r="1.0" fill="#ee6f6f"/>
<circle cx="400.7" cy="393.0" r="1.0" fill="#f5b32b"/>
<circle cx="451.7" cy="413.3" r="1.0" fill="#efe04c"/>
<circle cx="576.8" cy="261.2" r="1.0" fill="#f5b32b"/>
<circle cx="569.0" cy="443.3" r="1.0" fill="#c02cd8"/>
<circle cx="558.1" cy="429.0" r="1.0" fill="#f5b32b"/>
<circle cx="490.7" cy="426.9" r="1.0" fill="#f5b32b"/>
<circle cx="489.0" cy="439.6" r="1.0" fill="#f5b32b"/>
<circle cx="627.8" cy="249.5" r="1.0" fill="#ee6f6f"/>
<circle cx="654.7" cy="376.1" r="1.0" fill="#f5b32b"/>
<circle cx="706.9" cy="321.7" r="1.0" fill="#ee6f6f"/>
<circle cx="816.2" cy="242.1" r="1.0" fill="#f5b32b"/>
<circle cx="753.0" cy="267.9" r="1.0" fill="#f5b32b"/>
<circle cx="776.1" cy="264.3" r="1.0" fill="#f5b32b"/>
<circle cx="508.6" cy="209.0" r="0.9" fill="#ee6f6f"/>
<circle cx="367.0" cy="401.9" r="0.9" fill="#ee6f6f"/>
<circle cx="602.2" cy="326.1" r="0.9" fill="#efe04c"/>
<circle cx="603.1" cy="340.8" r="0.9" fill="#efe04c"/>
<circle cx="533.7" cy="409.8" r="0.9" fill="#f5b32b"/>
<circle cx="573.9" cy="423.9" r="0.9" fill="#f5b32b"/>
<circle cx="603.9" cy="362.9" r="0.9" fill="#f5b32b"/>
<circle cx="582.1" cy="440.9" r="0.9" fill="#ee6f6f"/>
<circle cx="469.7" cy="455.6" r="0.9" fill="#ee6f6f"/>
<circle cx="676.7" cy="321.1" r="0.9" fill="#f5b32b"/>
<circle cx="698.8" cy="348.7" r="0.9" fill="#f5b32b"/>
<circle cx="647.9" cy="418.7" r="0.9" fill="#f5b32b"/>
<circle cx="727.6" cy="360.9" r="0.9" fill="#f5b32b"/>
<circle cx="713.0" cy="294.5" r="0.9" fill="#f5b32b"/>
<circle cx="810.6" cy="273.7" r="0.9" fill="#f5b32b"/>
<circle cx="819.4" cy="230.9" r="0.9" fill="#ee6f6f"/>
<circle cx="726.4" cy="277.1" r="0.9" fill="#f5b32b"/>
<circle cx="201.8" cy="279.1" r="0.8" fill="#efe04c"/>
<circle cx="219.8" cy="281.1" r="0.8" fill="#efe04c"/>
<circle cx="253.6" cy="278.4" r="0.8" fill="#efe04c"/>
<circle cx="242.6" cy="260.1" r="0.8" fill="#f5b32b"/>
<circle cx="299.3" cy="389.3" r="0.8" fill="#f5b32b"/>
<circle cx="398.0" cy="372.3" r="0.8" fill="#f5b32b"/>
<circle cx="442.4" cy="330.9" r="0.8" fill="#ee6f6f"/>
<circle cx="472.6" cy="296.7" r="0.8" fill="#5b34d6"/>
<circle cx="492.9" cy="230.1" r="0.8" fill="#f5b32b"/>
<circle cx="590.0" cy="313.5" r="0.8" fill="#f5b32b"/>
<circle cx="579.3" cy="302.0" r="0.8" fill="#f5b32b"/>
<circle cx="598.8" cy="340.0" r="0.8" fill="#f5b32b"/>
<circle cx="498.8" cy="396.9" r="0.8" fill="#ee6f6f"/>
<circle cx="522.1" cy="366.1" r="0.8" fill="#ee6f6f"/>
<circle cx="558.0" cy="428.8" r="0.8" fill="#f5b32b"/>
<circle cx="622.3" cy="457.4" r="0.8" fill="#f5b32b"/>
<circle cx="699.0" cy="329.5" r="0.8" fill="#f5b32b"/>
<circle cx="622.1" cy="406.4" r="0.8" fill="#f5b32b"/>
<circle cx="677.5" cy="430.4" r="0.8" fill="#efe04c"/>
<circle cx="730.7" cy="316.0" r="0.8" fill="#ee6f6f"/>
<circle cx="736.5" cy="343.8" r="0.8" fill="#f5b32b"/>
<circle cx="825.6" cy="272.4" r="0.8" fill="#f5b32b"/>
<circle cx="817.4" cy="270.0" r="0.8" fill="#f5b32b"/>
<circle cx="744.2" cy="281.9" r="0.8" fill="#efe04c"/>
<circle cx="712.4" cy="375.6" r="0.8" fill="#f5b32b"/>
<circle cx="667.1" cy="450.2" r="0.8" fill="#f5b32b"/>
<circle cx="834.5" cy="561.6" r="0.8" fill="#ee6f6f"/>
<circle cx="238.3" cy="295.4" r="0.7" fill="#f5b32b"/>
<circle cx="394.8" cy="303.6" r="0.7" fill="#c02cd8"/>
<circle cx="464.3" cy="348.9" r="0.7" fill="#f5b32b"/>
<circle cx="450.3" cy="229.4" r="0.7" fill="#ee6f6f"/>
<circle cx="446.1" cy="443.6" r="0.7" fill="#f5b32b"/>
<circle cx="403.7" cy="561.2" r="0.7" fill="#f5b32b"/>
<circle cx="566.2" cy="258.5" r="0.7" fill="#f5b32b"/>
<circle cx="613.0" cy="255.9" r="0.7" fill="#f5b32b"/>
<circle cx="569.5" cy="299.4" r="0.7" fill="#ee6f6f"/>
<circle cx="543.8" cy="324.3" r="0.7" fill="#c02cd8"/>
<circle cx="606.9" cy="315.5" r="0.7" fill="#f5b32b"/>
<circle cx="651.0" cy="233.4" r="0.7" fill="#efe04c"/>
<circle cx="674.1" cy="344.2" r="0.7" fill="#f5b32b"/>
<circle cx="606.4" cy="437.0" r="0.7" fill="#ee6f6f"/>
<circle cx="758.5" cy="293.2" r="0.7" fill="#ee6f6f"/>
<circle cx="813.7" cy="220.2" r="0.7" fill="#f5b32b"/>
<circle cx="821.4" cy="207.9" r="0.7" fill="#f5b32b"/>
<circle cx="790.3" cy="281.6" r="0.7" fill="#f5b32b"/>
<circle cx="795.9" cy="285.6" r="0.7" fill="#f5b32b"/>
<circle cx="790.3" cy="288.2" r="0.7" fill="#f5b32b"/>
<circle cx="724.7" cy="452.4" r="0.7" fill="#f5b32b"/>
<circle cx="684.7" cy="467.3" r="0.7" fill="#efe04c"/>
<circle cx="658.6" cy="459.4" r="0.7" fill="#f5b32b"/>
<circle cx="355.7" cy="219.6" r="0.6" fill="#efe04c"/>
<circle cx="425.3" cy="267.6" r="0.6" fill="#f5b32b"/>
<circle cx="425.7" cy="428.4" r="0.6" fill="#f5b32b"/>
<circle cx="250.9" cy="496.7" r="0.6" fill="#efe04c"/>
<circle cx="587.4" cy="292.4" r="0.6" fill="#ee6f6f"/>
<circle cx="543.5" cy="416.3" r="0.6" fill="#f5b32b"/>
<circle cx="606.0" cy="369.8" r="0.6" fill="#f5b32b"/>
<circle cx="564.3" cy="395.1" r="0.6" fill="#f5b32b"/>
<circle cx="565.0" cy="493.7" r="0.6" fill="#efe04c"/>
<circle cx="606.4" cy="436.9" r="0.6" fill="#ee6f6f"/>
<circle cx="598.5" cy="476.5" r="0.6" fill="#ee6f6f"/>
<circle cx="725.5" cy="443.2" r="0.6" fill="#f5b32b"/>
<circle cx="710.6" cy="446.5" r="0.6" fill="#f5b32b"/>
<circle cx="406.4" cy="260.4" r="0.5" fill="#efe04c"/>
<circle cx="424.3" cy="204.3" r="0.5" fill="#f5b32b"/>
<circle cx="422.1" cy="233.1" r="0.5" fill="#f5b32b"/>
<circle cx="594.9" cy="244.0" r="0.5" fill="#f5b32b"/>
</g>
</svg>
<div class="zb" style="left:113px;top:149px;">+</div>
<div class="zb" style="left:113px;top:177.4px;line-height:27px;">-</div>
<div class="hr"></div>
<div class="lg" style="left:212px;top:640px;font-size:9.3px;line-height:12px;letter-spacing:-.04px;">28-Day Elapsed Seconds</div>
<div class="lg" style="left:223px;top:653px;font-size:14.6px;line-height:18px;color:#333;">132,886,627</div>
<div class="abs" style="left:197.7px;top:676.7px;width:11.6px;height:11.6px;border-radius:50%;background:#f07b7e;"></div>
<div class="lg" style="left:213px;top:677px;font-size:9.4px;line-height:12px;letter-spacing:-.03px;">= 292,413 Elapsed Seconds</div>
<div class="lg" style="left:500px;top:640px;font-size:9.4px;line-height:12px;letter-spacing:-.05px;">How This Location Is Performing</div>
<div class="lg" style="left:492px;top:654px;font-size:9.6px;line-height:12px;letter-spacing:-.03px;">Under</div>
<div class="bar"><i style="background:#f2e864"></i><i style="background:#f9c45c"></i><i style="background:#f08c8c"></i><i style="background:#cb50e0"></i><i style="background:#7452dd"></i></div>
<div class="lg" style="left:622px;top:654px;font-size:9.4px;line-height:12px;letter-spacing:-.05px;">Over</div>
</body></html>
